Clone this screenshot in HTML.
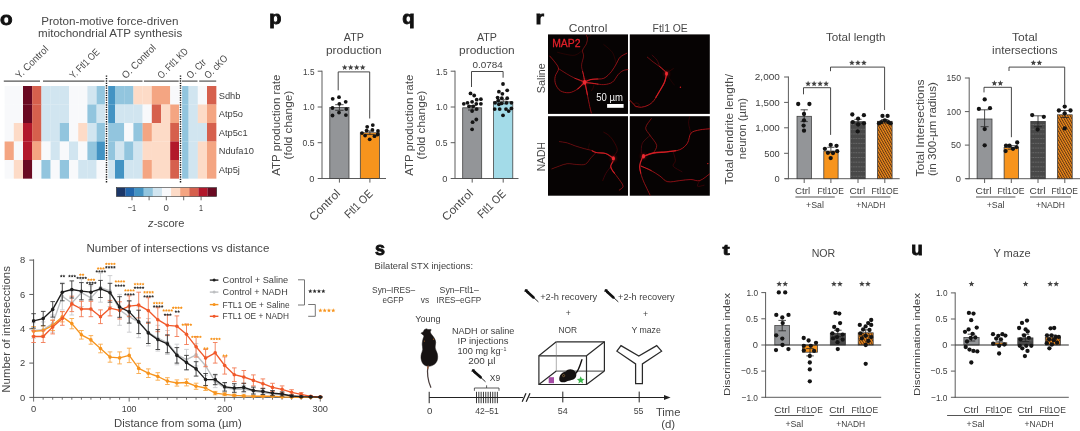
<!DOCTYPE html>
<html><head><meta charset="utf-8"><title>figure</title>
<style>
html,body{margin:0;padding:0;background:#fff;}
svg{display:block;font-family:'Liberation Sans', sans-serif;}
text{fill:#474747;}
</style></head><body>
<svg width="1080" height="431" viewBox="0 0 1080 431">
<defs>
<pattern id="hatch" width="2.25" height="2.25" patternUnits="userSpaceOnUse" patternTransform="rotate(-30)">
<rect width="2.25" height="2.25" fill="#f28c1c"/><rect width="1.0" height="2.25" fill="#5e3512"/></pattern>
<pattern id="dash" width="2.6" height="4.7" patternUnits="userSpaceOnUse">
<rect width="2.6" height="4.7" fill="#484848"/><rect x="0.3" y="2.0" width="1.6" height="0.7" fill="#777"/></pattern>
<filter id="blur" x="-5%" y="-5%" width="110%" height="110%"><feGaussianBlur stdDeviation="0.45"/></filter>
<filter id="glow" x="-50%" y="-50%" width="200%" height="200%"><feGaussianBlur stdDeviation="1.4"/></filter>
</defs>
<rect width="1080" height="431" fill="#fff"/>
<g opacity="0.999">
<text x="-0.1" y="24.5" font-size="18.8" textLength="12.6" lengthAdjust="spacingAndGlyphs" font-weight="bold" style="fill:#111" stroke="#111" stroke-width="0.85">o</text>
<text x="269.2" y="24.1" font-size="18.8" textLength="12.2" lengthAdjust="spacingAndGlyphs" font-weight="bold" style="fill:#111" stroke="#111" stroke-width="0.85">p</text>
<text x="402.2" y="24.1" font-size="18.8" textLength="12.4" lengthAdjust="spacingAndGlyphs" font-weight="bold" style="fill:#111" stroke="#111" stroke-width="0.85">q</text>
<text x="535.5" y="24.3" font-size="18.8" textLength="8.5" lengthAdjust="spacingAndGlyphs" font-weight="bold" style="fill:#111" stroke="#111" stroke-width="0.85">r</text>
<text x="375" y="254.8" font-size="18.8" textLength="10" lengthAdjust="spacingAndGlyphs" font-weight="bold" style="fill:#111" stroke="#111" stroke-width="0.85">s</text>
<text transform="translate(722.4,255) scale(1,0.79)" font-size="18.8" font-weight="bold" textLength="7.2" lengthAdjust="spacingAndGlyphs" style="fill:#111" stroke="#111" stroke-width="0.85">t</text>
<text x="911.3" y="255" font-size="18.8" textLength="11.5" lengthAdjust="spacingAndGlyphs" font-weight="bold" style="fill:#111" stroke="#111" stroke-width="0.85">u</text>
<text x="41.2" y="25" font-size="11.4" textLength="137.3" lengthAdjust="spacingAndGlyphs" >Proton-motive force-driven</text>
<text x="38" y="37.4" font-size="11.4" textLength="144.2" lengthAdjust="spacingAndGlyphs" >mitochondrial ATP synthesis</text>
<rect x="4.60" y="86.00" width="9.35" height="18.65" fill="#f8f9fb" />
<rect x="13.80" y="86.00" width="9.35" height="18.65" fill="#f8f9fb" />
<rect x="23.00" y="86.00" width="9.35" height="18.65" fill="#6a0a22" />
<rect x="32.20" y="86.00" width="9.35" height="18.65" fill="#d6604d" />
<rect x="41.40" y="86.00" width="9.35" height="18.65" fill="#d1e5f0" />
<rect x="50.60" y="86.00" width="9.35" height="18.65" fill="#d1e5f0" />
<rect x="59.80" y="86.00" width="9.35" height="18.65" fill="#d1e5f0" />
<rect x="69.00" y="86.00" width="9.35" height="18.65" fill="#f8f9fb" />
<rect x="78.20" y="86.00" width="9.35" height="18.65" fill="#f8f9fb" />
<rect x="87.40" y="86.00" width="9.35" height="18.65" fill="#d1e5f0" />
<rect x="96.60" y="86.00" width="9.35" height="18.65" fill="#92c5de" />
<rect x="105.80" y="86.00" width="9.35" height="18.65" fill="#4393c3" />
<rect x="115.00" y="86.00" width="9.35" height="18.65" fill="#92c5de" />
<rect x="124.20" y="86.00" width="9.35" height="18.65" fill="#92c5de" />
<rect x="133.40" y="86.00" width="9.35" height="18.65" fill="#fddbc7" />
<rect x="142.60" y="86.00" width="9.35" height="18.65" fill="#fddbc7" />
<rect x="151.80" y="86.00" width="9.35" height="18.65" fill="#f4a582" />
<rect x="161.00" y="86.00" width="9.35" height="18.65" fill="#f4a582" />
<rect x="170.20" y="86.00" width="9.35" height="18.65" fill="#f8f9fb" />
<rect x="179.40" y="86.00" width="9.35" height="18.65" fill="#92c5de" />
<rect x="188.60" y="86.00" width="9.35" height="18.65" fill="#d1e5f0" />
<rect x="197.80" y="86.00" width="9.35" height="18.65" fill="#f8f9fb" />
<rect x="207.00" y="86.00" width="9.35" height="18.65" fill="#d6604d" />
<rect x="4.60" y="104.50" width="9.35" height="18.65" fill="#f8f9fb" />
<rect x="13.80" y="104.50" width="9.35" height="18.65" fill="#f8f9fb" />
<rect x="23.00" y="104.50" width="9.35" height="18.65" fill="#6a0a22" />
<rect x="32.20" y="104.50" width="9.35" height="18.65" fill="#d6604d" />
<rect x="41.40" y="104.50" width="9.35" height="18.65" fill="#d1e5f0" />
<rect x="50.60" y="104.50" width="9.35" height="18.65" fill="#d1e5f0" />
<rect x="59.80" y="104.50" width="9.35" height="18.65" fill="#d1e5f0" />
<rect x="69.00" y="104.50" width="9.35" height="18.65" fill="#f8f9fb" />
<rect x="78.20" y="104.50" width="9.35" height="18.65" fill="#f8f9fb" />
<rect x="87.40" y="104.50" width="9.35" height="18.65" fill="#92c5de" />
<rect x="96.60" y="104.50" width="9.35" height="18.65" fill="#d1e5f0" />
<rect x="105.80" y="104.50" width="9.35" height="18.65" fill="#4393c3" />
<rect x="115.00" y="104.50" width="9.35" height="18.65" fill="#d1e5f0" />
<rect x="124.20" y="104.50" width="9.35" height="18.65" fill="#d1e5f0" />
<rect x="133.40" y="104.50" width="9.35" height="18.65" fill="#d1e5f0" />
<rect x="142.60" y="104.50" width="9.35" height="18.65" fill="#f8f9fb" />
<rect x="151.80" y="104.50" width="9.35" height="18.65" fill="#d6604d" />
<rect x="161.00" y="104.50" width="9.35" height="18.65" fill="#fddbc7" />
<rect x="170.20" y="104.50" width="9.35" height="18.65" fill="#f4a582" />
<rect x="179.40" y="104.50" width="9.35" height="18.65" fill="#92c5de" />
<rect x="188.60" y="104.50" width="9.35" height="18.65" fill="#d1e5f0" />
<rect x="197.80" y="104.50" width="9.35" height="18.65" fill="#fddbc7" />
<rect x="207.00" y="104.50" width="9.35" height="18.65" fill="#f4a582" />
<rect x="4.60" y="123.00" width="9.35" height="18.65" fill="#f8f9fb" />
<rect x="13.80" y="123.00" width="9.35" height="18.65" fill="#fddbc7" />
<rect x="23.00" y="123.00" width="9.35" height="18.65" fill="#b2182b" />
<rect x="32.20" y="123.00" width="9.35" height="18.65" fill="#d6604d" />
<rect x="41.40" y="123.00" width="9.35" height="18.65" fill="#d1e5f0" />
<rect x="50.60" y="123.00" width="9.35" height="18.65" fill="#d1e5f0" />
<rect x="59.80" y="123.00" width="9.35" height="18.65" fill="#92c5de" />
<rect x="69.00" y="123.00" width="9.35" height="18.65" fill="#f8f9fb" />
<rect x="78.20" y="123.00" width="9.35" height="18.65" fill="#fddbc7" />
<rect x="87.40" y="123.00" width="9.35" height="18.65" fill="#d1e5f0" />
<rect x="96.60" y="123.00" width="9.35" height="18.65" fill="#92c5de" />
<rect x="105.80" y="123.00" width="9.35" height="18.65" fill="#92c5de" />
<rect x="115.00" y="123.00" width="9.35" height="18.65" fill="#92c5de" />
<rect x="124.20" y="123.00" width="9.35" height="18.65" fill="#f8f9fb" />
<rect x="133.40" y="123.00" width="9.35" height="18.65" fill="#92c5de" />
<rect x="142.60" y="123.00" width="9.35" height="18.65" fill="#f4a582" />
<rect x="151.80" y="123.00" width="9.35" height="18.65" fill="#fddbc7" />
<rect x="161.00" y="123.00" width="9.35" height="18.65" fill="#fddbc7" />
<rect x="170.20" y="123.00" width="9.35" height="18.65" fill="#d6604d" />
<rect x="179.40" y="123.00" width="9.35" height="18.65" fill="#92c5de" />
<rect x="188.60" y="123.00" width="9.35" height="18.65" fill="#d1e5f0" />
<rect x="197.80" y="123.00" width="9.35" height="18.65" fill="#d1e5f0" />
<rect x="207.00" y="123.00" width="9.35" height="18.65" fill="#d6604d" />
<rect x="4.60" y="141.50" width="9.35" height="18.65" fill="#f4a582" />
<rect x="13.80" y="141.50" width="9.35" height="18.65" fill="#f8f9fb" />
<rect x="23.00" y="141.50" width="9.35" height="18.65" fill="#b2182b" />
<rect x="32.20" y="141.50" width="9.35" height="18.65" fill="#f4a582" />
<rect x="41.40" y="141.50" width="9.35" height="18.65" fill="#f8f9fb" />
<rect x="50.60" y="141.50" width="9.35" height="18.65" fill="#d1e5f0" />
<rect x="59.80" y="141.50" width="9.35" height="18.65" fill="#f8f9fb" />
<rect x="69.00" y="141.50" width="9.35" height="18.65" fill="#d1e5f0" />
<rect x="78.20" y="141.50" width="9.35" height="18.65" fill="#f8f9fb" />
<rect x="87.40" y="141.50" width="9.35" height="18.65" fill="#92c5de" />
<rect x="96.60" y="141.50" width="9.35" height="18.65" fill="#4393c3" />
<rect x="105.80" y="141.50" width="9.35" height="18.65" fill="#92c5de" />
<rect x="115.00" y="141.50" width="9.35" height="18.65" fill="#d1e5f0" />
<rect x="124.20" y="141.50" width="9.35" height="18.65" fill="#92c5de" />
<rect x="133.40" y="141.50" width="9.35" height="18.65" fill="#d1e5f0" />
<rect x="142.60" y="141.50" width="9.35" height="18.65" fill="#fddbc7" />
<rect x="151.80" y="141.50" width="9.35" height="18.65" fill="#fddbc7" />
<rect x="161.00" y="141.50" width="9.35" height="18.65" fill="#fddbc7" />
<rect x="170.20" y="141.50" width="9.35" height="18.65" fill="#b2182b" />
<rect x="179.40" y="141.50" width="9.35" height="18.65" fill="#92c5de" />
<rect x="188.60" y="141.50" width="9.35" height="18.65" fill="#d1e5f0" />
<rect x="197.80" y="141.50" width="9.35" height="18.65" fill="#fddbc7" />
<rect x="207.00" y="141.50" width="9.35" height="18.65" fill="#f4a582" />
<rect x="4.60" y="160.00" width="9.35" height="18.65" fill="#f8f9fb" />
<rect x="13.80" y="160.00" width="9.35" height="18.65" fill="#fddbc7" />
<rect x="23.00" y="160.00" width="9.35" height="18.65" fill="#6a0a22" />
<rect x="32.20" y="160.00" width="9.35" height="18.65" fill="#f8f9fb" />
<rect x="41.40" y="160.00" width="9.35" height="18.65" fill="#92c5de" />
<rect x="50.60" y="160.00" width="9.35" height="18.65" fill="#f8f9fb" />
<rect x="59.80" y="160.00" width="9.35" height="18.65" fill="#92c5de" />
<rect x="69.00" y="160.00" width="9.35" height="18.65" fill="#f8f9fb" />
<rect x="78.20" y="160.00" width="9.35" height="18.65" fill="#d1e5f0" />
<rect x="87.40" y="160.00" width="9.35" height="18.65" fill="#d1e5f0" />
<rect x="96.60" y="160.00" width="9.35" height="18.65" fill="#f8f9fb" />
<rect x="105.80" y="160.00" width="9.35" height="18.65" fill="#d1e5f0" />
<rect x="115.00" y="160.00" width="9.35" height="18.65" fill="#4393c3" />
<rect x="124.20" y="160.00" width="9.35" height="18.65" fill="#d1e5f0" />
<rect x="133.40" y="160.00" width="9.35" height="18.65" fill="#d1e5f0" />
<rect x="142.60" y="160.00" width="9.35" height="18.65" fill="#f4a582" />
<rect x="151.80" y="160.00" width="9.35" height="18.65" fill="#fddbc7" />
<rect x="161.00" y="160.00" width="9.35" height="18.65" fill="#fddbc7" />
<rect x="170.20" y="160.00" width="9.35" height="18.65" fill="#d6604d" />
<rect x="179.40" y="160.00" width="9.35" height="18.65" fill="#92c5de" />
<rect x="188.60" y="160.00" width="9.35" height="18.65" fill="#d1e5f0" />
<rect x="197.80" y="160.00" width="9.35" height="18.65" fill="#fddbc7" />
<rect x="207.00" y="160.00" width="9.35" height="18.65" fill="#f4a582" />
<rect x="104.90" y="84.00" width="3.30" height="96.00" fill="#fff" />
<rect x="179.00" y="84.00" width="3.10" height="96.00" fill="#fff" />
<line x1="106.5" y1="75.5" x2="106.5" y2="182.5" stroke="#1c1c1c" stroke-width="1.45" stroke-dasharray="1.35 1.05"/>
<line x1="180.5" y1="75.5" x2="180.5" y2="182.5" stroke="#1c1c1c" stroke-width="1.45" stroke-dasharray="1.35 1.05"/>
<line x1="3.8" y1="81.1" x2="40" y2="81.1" stroke="#555" stroke-width="1.2" />
<line x1="43" y1="81.1" x2="104.5" y2="81.1" stroke="#555" stroke-width="1.2" />
<line x1="108.7" y1="81.1" x2="142.5" y2="81.1" stroke="#555" stroke-width="1.2" />
<line x1="143.9" y1="81.1" x2="178.7" y2="81.1" stroke="#555" stroke-width="1.2" />
<line x1="182" y1="81.1" x2="197.5" y2="81.1" stroke="#555" stroke-width="1.2" />
<line x1="199.2" y1="81.1" x2="216.2" y2="81.1" stroke="#555" stroke-width="1.2" />
<text transform="translate(19.6,79.2) rotate(-45)" font-size="10" textLength="41.5" lengthAdjust="spacingAndGlyphs" >Y. Control</text>
<text transform="translate(73.6,79.2) rotate(-45)" font-size="10" textLength="37.5" lengthAdjust="spacingAndGlyphs" >Y. Ftl1 OE</text>
<text transform="translate(125.8,79.2) rotate(-45)" font-size="10" textLength="43.5" lengthAdjust="spacingAndGlyphs" >O. Control</text>
<text transform="translate(161.5,79.2) rotate(-45)" font-size="10" textLength="38.5" lengthAdjust="spacingAndGlyphs" >O. Ftl1 KD</text>
<text transform="translate(190.5,79.2) rotate(-45)" font-size="10" textLength="23" lengthAdjust="spacingAndGlyphs" >O. Ctr</text>
<text transform="translate(208.2,79.2) rotate(-45)" font-size="10" textLength="28.5" lengthAdjust="spacingAndGlyphs" >O. cKO</text>
<text x="218.7" y="98.6" font-size="9.3" style="fill:#3e3e3e" >Sdhb</text>
<text x="218.7" y="117.1" font-size="9.3" style="fill:#3e3e3e" >Atp5o</text>
<text x="218.7" y="135.6" font-size="9.3" style="fill:#3e3e3e" >Atp5c1</text>
<text x="218.7" y="154.1" font-size="9.3" style="fill:#3e3e3e" >Ndufa10</text>
<text x="218.7" y="172.6" font-size="9.3" style="fill:#3e3e3e" >Atp5j</text>
<rect x="116.40" y="187.60" width="9.21" height="8.90" fill="#1b3768" />
<rect x="125.51" y="187.60" width="9.21" height="8.90" fill="#2166ac" />
<rect x="134.62" y="187.60" width="9.21" height="8.90" fill="#4393c3" />
<rect x="143.73" y="187.60" width="9.21" height="8.90" fill="#92c5de" />
<rect x="152.84" y="187.60" width="9.21" height="8.90" fill="#d1e5f0" />
<rect x="161.95" y="187.60" width="9.21" height="8.90" fill="#f8f9fb" />
<rect x="171.06" y="187.60" width="9.21" height="8.90" fill="#fddbc7" />
<rect x="180.17" y="187.60" width="9.21" height="8.90" fill="#f4a582" />
<rect x="189.28" y="187.60" width="9.21" height="8.90" fill="#d6604d" />
<rect x="198.39" y="187.60" width="9.21" height="8.90" fill="#b2182b" />
<rect x="207.50" y="187.60" width="9.21" height="8.90" fill="#6a0a22" />
<rect x="116.40" y="187.60" width="100.20" height="8.90" fill="none" stroke="#333" stroke-width="0.6" />
<line x1="132" y1="196.5" x2="132" y2="200.3" stroke="#444" stroke-width="0.8" />
<line x1="149.1" y1="196.5" x2="149.1" y2="200.3" stroke="#444" stroke-width="0.8" />
<line x1="166.3" y1="196.5" x2="166.3" y2="200.3" stroke="#444" stroke-width="0.8" />
<line x1="183.7" y1="196.5" x2="183.7" y2="200.3" stroke="#444" stroke-width="0.8" />
<line x1="201.1" y1="196.5" x2="201.1" y2="200.3" stroke="#444" stroke-width="0.8" />
<text x="132" y="210.5" font-size="9.2" text-anchor="middle" textLength="8.5" lengthAdjust="spacingAndGlyphs" style="fill:#3e3e3e" >−1</text>
<text x="166.3" y="210.5" font-size="9.2" text-anchor="middle" textLength="5.4" lengthAdjust="spacingAndGlyphs" style="fill:#3e3e3e" >0</text>
<text x="201.1" y="210.5" font-size="9.2" text-anchor="middle" textLength="4" lengthAdjust="spacingAndGlyphs" style="fill:#3e3e3e" >1</text>
<text x="166.3" y="226.8" font-size="11" text-anchor="middle" textLength="36.4" lengthAdjust="spacingAndGlyphs"><tspan font-style="italic">z</tspan>-score</text>
<text x="353.8" y="40.5" font-size="11.4" text-anchor="middle" textLength="20" lengthAdjust="spacingAndGlyphs" >ATP</text>
<text x="353.8" y="53.7" font-size="11.4" text-anchor="middle" textLength="55.6" lengthAdjust="spacingAndGlyphs" >production</text>
<text transform="translate(280.3,125.2) rotate(-90)" font-size="10.8" text-anchor="middle" textLength="101" lengthAdjust="spacingAndGlyphs" >ATP production rate</text>
<text transform="translate(292.1,125.2) rotate(-90)" font-size="10.8" text-anchor="middle" textLength="68.7" lengthAdjust="spacingAndGlyphs" >(fold change)</text>
<line x1="322" y1="70.7" x2="322" y2="179.0" stroke="#5c5c5c" stroke-width="1" />
<line x1="317.7" y1="71.2" x2="322" y2="71.2" stroke="#5c5c5c" stroke-width="1" />
<text x="314.5" y="74.5" font-size="9.5" text-anchor="end" textLength="11.5" lengthAdjust="spacingAndGlyphs" style="fill:#3e3e3e" >1.5</text>
<line x1="317.7" y1="107" x2="322" y2="107" stroke="#5c5c5c" stroke-width="1" />
<text x="314.5" y="110.3" font-size="9.5" text-anchor="end" textLength="11.5" lengthAdjust="spacingAndGlyphs" style="fill:#3e3e3e" >1.0</text>
<line x1="317.7" y1="142.7" x2="322" y2="142.7" stroke="#5c5c5c" stroke-width="1" />
<text x="314.5" y="146.0" font-size="9.5" text-anchor="end" textLength="12" lengthAdjust="spacingAndGlyphs" style="fill:#3e3e3e" >0.5</text>
<line x1="317.7" y1="178.5" x2="322" y2="178.5" stroke="#5c5c5c" stroke-width="1" />
<text x="314.5" y="181.8" font-size="9.5" text-anchor="end" textLength="5.2" lengthAdjust="spacingAndGlyphs" style="fill:#3e3e3e" >0</text>
<line x1="321.5" y1="178.5" x2="386" y2="178.5" stroke="#5c5c5c" stroke-width="1" />
<rect x="329.80" y="107.50" width="19.20" height="71.00" fill="#939598" stroke="#3a3a3a" stroke-width="0.75" />
<rect x="360.30" y="132.80" width="19.20" height="45.70" fill="#f7941d" stroke="#3a3a3a" stroke-width="0.75" />
<line x1="339.4" y1="178.5" x2="339.4" y2="182.6" stroke="#5c5c5c" stroke-width="1" />
<line x1="369.9" y1="178.5" x2="369.9" y2="182.6" stroke="#5c5c5c" stroke-width="1" />
<path d="M339.4,104.7V110.3M335.2,104.7H343.59999999999997M335.2,110.3H343.59999999999997" fill="none" stroke="#222" stroke-width="0.8" />
<path d="M369.9,131V134.6M365.7,131H374.09999999999997M365.7,134.6H374.09999999999997" fill="none" stroke="#222" stroke-width="0.8" />
<g fill="#141414"><circle cx="332.7" cy="98.8" r="1.9"/><circle cx="339.0" cy="97.2" r="1.9"/><circle cx="345.7" cy="101.8" r="1.9"/><circle cx="339.4" cy="103.8" r="1.9"/><circle cx="332.5" cy="108.0" r="1.9"/><circle cx="346.3" cy="109.1" r="1.9"/><circle cx="339.0" cy="112.6" r="1.9"/><circle cx="332.5" cy="115.5" r="1.9"/><circle cx="345.9" cy="115.1" r="1.9"/></g>
<g fill="#141414"><circle cx="367.2" cy="126.8" r="1.9"/><circle cx="372.8" cy="125.1" r="1.9"/><circle cx="366.6" cy="130.6" r="1.9"/><circle cx="372.4" cy="129.9" r="1.9"/><circle cx="362.0" cy="133.1" r="1.9"/><circle cx="378.0" cy="131.0" r="1.9"/><circle cx="365.1" cy="135.6" r="1.9"/><circle cx="369.7" cy="139.3" r="1.9"/><circle cx="374.5" cy="136.2" r="1.9"/><circle cx="377.6" cy="134.5" r="1.9"/></g>
<path d="M338.2,90.3V71.9H369.7V118.5" fill="none" stroke="#333" stroke-width="0.9" />
<path d="M344.70,64.50 L345.49,66.41 L347.55,66.57 L345.98,67.92 L346.46,69.93 L344.70,68.85 L342.94,69.93 L343.42,67.92 L341.85,66.57 L343.91,66.41ZM350.70,64.50 L351.49,66.41 L353.55,66.57 L351.98,67.92 L352.46,69.93 L350.70,68.85 L348.94,69.93 L349.42,67.92 L347.85,66.57 L349.91,66.41ZM356.70,64.50 L357.49,66.41 L359.55,66.57 L357.98,67.92 L358.46,69.93 L356.70,68.85 L354.94,69.93 L355.42,67.92 L353.85,66.57 L355.91,66.41ZM362.70,64.50 L363.49,66.41 L365.55,66.57 L363.98,67.92 L364.46,69.93 L362.70,68.85 L360.94,69.93 L361.42,67.92 L359.85,66.57 L361.91,66.41Z" fill="#424242"/>
<text transform="translate(341,194.2) rotate(-45)" font-size="11.4" text-anchor="end" textLength="38.5" lengthAdjust="spacingAndGlyphs" >Control</text>
<text transform="translate(373.5,194.5) rotate(-45)" font-size="11.4" text-anchor="end" textLength="34.5" lengthAdjust="spacingAndGlyphs" >Ftl1 OE</text>
<text x="486.9" y="40.5" font-size="11.4" text-anchor="middle" textLength="20" lengthAdjust="spacingAndGlyphs" >ATP</text>
<text x="486.9" y="53.7" font-size="11.4" text-anchor="middle" textLength="55.6" lengthAdjust="spacingAndGlyphs" >production</text>
<text transform="translate(413.3,125.2) rotate(-90)" font-size="10.8" text-anchor="middle" textLength="101" lengthAdjust="spacingAndGlyphs" >ATP production rate</text>
<text transform="translate(425.1,125.2) rotate(-90)" font-size="10.8" text-anchor="middle" textLength="68.7" lengthAdjust="spacingAndGlyphs" >(fold change)</text>
<line x1="455" y1="70.7" x2="455" y2="179.0" stroke="#5c5c5c" stroke-width="1" />
<line x1="450.7" y1="71.2" x2="455" y2="71.2" stroke="#5c5c5c" stroke-width="1" />
<text x="447.5" y="74.5" font-size="9.5" text-anchor="end" textLength="11.5" lengthAdjust="spacingAndGlyphs" style="fill:#3e3e3e" >1.5</text>
<line x1="450.7" y1="107" x2="455" y2="107" stroke="#5c5c5c" stroke-width="1" />
<text x="447.5" y="110.3" font-size="9.5" text-anchor="end" textLength="11.5" lengthAdjust="spacingAndGlyphs" style="fill:#3e3e3e" >1.0</text>
<line x1="450.7" y1="142.7" x2="455" y2="142.7" stroke="#5c5c5c" stroke-width="1" />
<text x="447.5" y="146.0" font-size="9.5" text-anchor="end" textLength="12" lengthAdjust="spacingAndGlyphs" style="fill:#3e3e3e" >0.5</text>
<line x1="450.7" y1="178.5" x2="455" y2="178.5" stroke="#5c5c5c" stroke-width="1" />
<text x="447.5" y="181.8" font-size="9.5" text-anchor="end" textLength="5.2" lengthAdjust="spacingAndGlyphs" style="fill:#3e3e3e" >0</text>
<line x1="454.5" y1="178.5" x2="518.5" y2="178.5" stroke="#5c5c5c" stroke-width="1" />
<rect x="462.70" y="107.80" width="19.00" height="70.70" fill="#939598" stroke="#3a3a3a" stroke-width="0.75" />
<rect x="493.60" y="101.80" width="19.20" height="76.70" fill="#a3dbe8" stroke="#3a3a3a" stroke-width="0.75" />
<line x1="472.2" y1="178.5" x2="472.2" y2="182.6" stroke="#5c5c5c" stroke-width="1" />
<line x1="503.2" y1="178.5" x2="503.2" y2="182.6" stroke="#5c5c5c" stroke-width="1" />
<path d="M472.2,105.5V110M468.0,105.5H476.4M468.0,110H476.4" fill="none" stroke="#222" stroke-width="0.8" />
<path d="M503.2,99.8V103.8M499.0,99.8H507.4M499.0,103.8H507.4" fill="none" stroke="#222" stroke-width="0.8" />
<g fill="#141414"><circle cx="470.5" cy="93.4" r="1.9"/><circle cx="474.2" cy="95.5" r="1.9"/><circle cx="476.7" cy="99.7" r="1.9"/><circle cx="480.9" cy="99.2" r="1.9"/><circle cx="467.5" cy="102.8" r="1.9"/><circle cx="472.1" cy="101.8" r="1.9"/><circle cx="463.8" cy="103.8" r="1.9"/><circle cx="476.3" cy="103.8" r="1.9"/><circle cx="480.9" cy="103.8" r="1.9"/><circle cx="469.0" cy="106.3" r="1.9"/><circle cx="473.2" cy="106.3" r="1.9"/><circle cx="476.7" cy="109.1" r="1.9"/><circle cx="472.1" cy="111.1" r="1.9"/><circle cx="476.3" cy="119.5" r="1.9"/><circle cx="472.6" cy="122.2" r="1.9"/><circle cx="472.1" cy="129.3" r="1.9"/></g>
<g fill="#141414"><circle cx="503.0" cy="84.0" r="1.9"/><circle cx="507.2" cy="90.3" r="1.9"/><circle cx="498.9" cy="91.7" r="1.9"/><circle cx="502.4" cy="93.8" r="1.9"/><circle cx="497.6" cy="97.6" r="1.9"/><circle cx="501.8" cy="98.2" r="1.9"/><circle cx="507.2" cy="98.2" r="1.9"/><circle cx="498.2" cy="100.7" r="1.9"/><circle cx="495.1" cy="102.8" r="1.9"/><circle cx="501.4" cy="103.4" r="1.9"/><circle cx="506.6" cy="102.8" r="1.9"/><circle cx="511.4" cy="102.8" r="1.9"/><circle cx="498.9" cy="104.3" r="1.9"/><circle cx="494.7" cy="109.1" r="1.9"/><circle cx="499.7" cy="109.1" r="1.9"/><circle cx="506.0" cy="109.1" r="1.9"/><circle cx="511.4" cy="108.4" r="1.9"/><circle cx="508.7" cy="111.1" r="1.9"/><circle cx="503.0" cy="115.3" r="1.9"/></g>
<path d="M471.5,87V71.5H503.1V77.7" fill="none" stroke="#333" stroke-width="0.9" />
<text x="487.6" y="67.7" font-size="9.2" text-anchor="middle" textLength="30.3" lengthAdjust="spacingAndGlyphs" style="fill:#3e3e3e" >0.0784</text>
<text transform="translate(473.8,194.2) rotate(-45)" font-size="11.4" text-anchor="end" textLength="38.5" lengthAdjust="spacingAndGlyphs" >Control</text>
<text transform="translate(506.5,194.5) rotate(-45)" font-size="11.4" text-anchor="end" textLength="34.5" lengthAdjust="spacingAndGlyphs" >Ftl1 OE</text>
<text x="568.8" y="31.8" font-size="11.4" textLength="38.6" lengthAdjust="spacingAndGlyphs" >Control</text>
<text x="652.6" y="31.8" font-size="11.4" textLength="35.2" lengthAdjust="spacingAndGlyphs" >Ftl1 OE</text>
<text transform="translate(545,78.2) rotate(-90)" font-size="11.4" text-anchor="middle" textLength="29.9" lengthAdjust="spacingAndGlyphs" >Saline</text>
<text transform="translate(545,156.7) rotate(-90)" font-size="11.4" text-anchor="middle" textLength="29.3" lengthAdjust="spacingAndGlyphs" >NADH</text>
<rect x="548.00" y="34.40" width="80.00" height="79.50" fill="#060303" />
<g transform="translate(548,34.4)" fill="none" stroke-linecap="round" stroke-linejoin="round">
<circle cx="36.6" cy="47.9" r="3.0" fill="#d8161a" opacity="0.4" filter="url(#glow)" stroke="none"/>
<g filter="url(#blur)">
<path d="M36.5,44.8 C36.2,43.5 35.1,39.5 34.6,37.1 C34.1,34.7 33.4,33.0 33.6,30.4 C33.8,27.8 35.4,24.1 35.6,21.7 C35.8,19.3 34.1,18.0 34.6,15.9 C35.1,13.8 37.7,11.3 38.5,9.2 C39.3,7.1 39.5,4.9 39.4,3.4 C39.3,1.9 38.2,0.9 38.0,0.4" stroke="#c0171c" stroke-width="0.8" opacity="0.66"/>
<path d="M34.6,15.9 C33.3,16.7 29.8,20.2 26.9,20.8 C24.0,21.4 20.2,20.3 17.3,19.8 C14.4,19.3 10.9,18.2 9.6,17.9" stroke="#c0171c" stroke-width="0.5" opacity="0.35"/>
<path d="M36.5,47.7 C35.4,48.8 32.4,52.7 29.8,54.5 C27.2,56.3 24.0,58.0 21.1,58.3 C18.2,58.6 14.7,57.8 12.4,56.4 C10.2,55.0 8.5,52.1 7.6,49.7 C6.7,47.3 6.7,44.6 7.2,42.0 C7.7,39.4 10.6,36.6 10.5,34.2 C10.4,31.8 8.2,29.6 6.7,27.5 C5.2,25.4 2.6,22.7 1.8,21.7" stroke="#c0171c" stroke-width="0.9" opacity="0.79"/>
<path d="M36.5,47.7 C34.9,47.1 29.9,45.3 26.9,43.9 C23.8,42.5 20.9,40.7 18.2,39.1 C15.5,37.5 11.8,35.0 10.5,34.2" stroke="#c0171c" stroke-width="0.8" opacity="0.75"/>
<path d="M36.5,47.7 C38.0,47.2 42.0,45.4 45.2,44.8 C48.4,44.2 52.8,45.2 55.8,43.9 C58.8,42.6 61.4,39.5 63.5,37.1 C65.6,34.7 66.8,31.8 68.3,29.4 C69.8,27.0 70.4,24.5 72.2,22.7 C74.0,20.9 77.8,19.4 78.9,18.8" stroke="#c0171c" stroke-width="0.9" opacity="0.79"/>
<path d="M36.5,47.7 C38.1,47.9 43.0,48.7 46.2,49.1 C49.4,49.5 52.8,50.4 55.8,50.2 C58.8,50.0 62.1,49.4 64.5,47.7 C66.9,46.0 68.5,41.9 70.3,40.0 C72.1,38.1 73.5,37.0 75.1,36.2 C76.7,35.4 79.1,35.4 79.9,35.2" stroke="#c0171c" stroke-width="0.9" opacity="0.75"/>
<path d="M37.5,51.6 C37.8,53.0 38.8,57.2 39.4,60.3 C40.0,63.3 40.6,66.9 41.3,69.9 C41.9,73.0 43.0,77.1 43.3,78.6" stroke="#c0171c" stroke-width="0.9" opacity="0.79"/>
<path d="M55.8,10.2 C56.8,11.0 60.0,13.4 61.6,15.0 C63.2,16.6 64.3,17.4 65.4,19.8 C66.5,22.2 67.8,27.8 68.3,29.4" stroke="#c0171c" stroke-width="0.5" opacity="0.35"/>
<path d="M46.2,49.1 C46.0,49.8 45.7,52.3 45.2,53.5 C44.7,54.7 43.6,55.9 43.3,56.4" stroke="#c0171c" stroke-width="0.5" opacity="0.44"/>
<path d="M39.4,3.4 L42.5,1.0" stroke="#c0171c" stroke-width="0.5" opacity="0.35"/>
<path d="M36.5,46.0 C36.3,45.0 35.7,41.5 35.4,40.0 C35.1,38.5 34.7,37.6 34.6,37.1" stroke="#d81f26" stroke-width="0.96" opacity="0.9"/>
<path d="M36.5,48.0 C35.8,48.8 33.1,51.4 32.0,52.5 C30.9,53.6 30.2,54.2 29.8,54.5" stroke="#d81f26" stroke-width="1.04" opacity="0.9"/>
<path d="M36.9,47.5 C37.6,47.2 39.6,46.1 41.0,45.6 C42.4,45.1 43.7,45.0 45.2,44.8 C46.7,44.6 49.2,44.6 50.0,44.6" stroke="#d81f26" stroke-width="1.04" opacity="0.9"/>
<path d="M37.3,49.5 C37.5,50.4 38.0,53.2 38.4,55.0 C38.8,56.8 39.2,59.4 39.4,60.3" stroke="#d81f26" stroke-width="1.12" opacity="0.9"/>
<path d="M36.9,48.2 C37.8,48.3 40.5,48.5 42.0,48.6 C43.5,48.8 44.9,48.9 46.2,49.1 C47.5,49.3 49.4,49.7 50.0,49.8" stroke="#d81f26" stroke-width="0.96" opacity="0.9"/>
<path d="M36.5,47.5 C35.6,47.1 32.6,46.0 31.0,45.4 C29.4,44.8 27.6,44.1 26.9,43.9" stroke="#d81f26" stroke-width="0.88" opacity="0.9"/>
<ellipse cx="36.6" cy="47.9" rx="1.80" ry="2.52" fill="#ee2a30" stroke="none"/>
</g></g>
<rect x="629.80" y="34.40" width="80.00" height="79.50" fill="#060303" />
<g transform="translate(629.8,34.4)" fill="none" stroke-linecap="round" stroke-linejoin="round">
<circle cx="36.7" cy="39.3" r="2.6" fill="#d8161a" opacity="0.4" filter="url(#glow)" stroke="none"/>
<g filter="url(#blur)">
<path d="M36.7,40.0 C36.4,41.3 35.9,45.0 34.8,47.7 C33.7,50.4 31.8,53.4 30.0,56.4 C28.2,59.4 26.1,63.6 24.2,66.0 C22.3,68.4 20.5,69.7 18.4,70.8 C16.3,71.9 13.8,72.6 11.7,72.8 C9.6,73.0 7.2,72.3 5.9,71.8 C4.6,71.3 5.0,70.9 4.0,69.9 C3.0,68.9 0.8,66.7 0.2,66.0" stroke="#c0171c" stroke-width="1.0" opacity="0.84"/>
<path d="M35.8,37.1 C34.8,36.3 32.1,33.9 30.0,32.3 C27.9,30.7 25.4,29.1 23.3,27.5 C21.2,25.9 18.5,23.5 17.5,22.7" stroke="#c0171c" stroke-width="0.8" opacity="0.70"/>
<path d="M30.0,32.3 C29.5,31.2 28.4,27.5 27.1,25.6 C25.8,23.7 23.1,21.6 22.3,20.8" stroke="#c0171c" stroke-width="0.6" opacity="0.53"/>
<path d="M37.7,38.1 L43.5,34.2" stroke="#c0171c" stroke-width="0.5" opacity="0.44"/>
<path d="M37.7,41.0 C38.4,42.0 40.5,45.2 41.6,46.8 C42.7,48.4 44.0,50.0 44.5,50.6" stroke="#c0171c" stroke-width="0.4" opacity="0.35"/>
<path d="M4.0,69.9 C4.4,69.7 5.6,68.5 6.5,68.6 C7.4,68.6 9.4,69.5 9.5,70.2 C9.6,70.9 7.8,72.4 7.0,72.6 C6.2,72.8 5.0,71.6 4.6,71.4" stroke="#c0171c" stroke-width="0.5" opacity="0.53"/>
<path d="M36.7,40.0 C36.4,41.3 35.9,45.0 34.8,47.7 C33.7,50.4 31.5,53.9 30.0,56.4 C28.5,58.9 26.7,61.9 26.0,63.0" stroke="#d81f26" stroke-width="1.20" opacity="0.9"/>
<path d="M36.2,38.0 C35.7,37.5 34.0,35.8 33.0,34.8 C32.0,33.8 30.5,32.7 30.0,32.3" stroke="#d81f26" stroke-width="0.88" opacity="0.9"/>
<ellipse cx="36.7" cy="39.3" rx="1.50" ry="2.10" fill="#ee2a30" stroke="none"/>
<circle cx="50.6" cy="52.9" r="0.7" fill="#e01a1f" stroke="none"/>
</g></g>
<rect x="548.00" y="116.20" width="80.00" height="79.50" fill="#060303" />
<g transform="translate(548,116.2)" fill="none" stroke-linecap="round" stroke-linejoin="round">
<circle cx="65.4" cy="42.2" r="2.7" fill="#d8161a" opacity="0.4" filter="url(#glow)" stroke="none"/>
<g filter="url(#blur)">
<path d="M65.4,42.1 C64.1,41.3 60.6,38.3 57.7,37.3 C54.8,36.3 50.4,36.8 48.1,36.3 C45.9,35.8 46.1,35.0 44.2,34.4 C42.3,33.8 39.4,33.3 36.5,32.5 C33.6,31.7 29.8,30.6 26.9,29.6 C24.0,28.6 21.8,27.4 19.2,26.7 C16.6,26.0 12.8,25.6 11.5,25.4" stroke="#c0171c" stroke-width="0.9" opacity="0.55"/>
<path d="M48.1,36.3 C47.3,37.1 45.1,39.3 43.3,41.2 C41.5,43.1 39.9,46.7 37.5,47.9 C35.1,49.1 31.9,48.4 28.8,48.3 C25.8,48.2 22.1,47.2 19.2,47.5 C16.3,47.8 14.1,48.9 11.5,49.8 C8.9,50.7 5.1,52.2 3.8,52.7" stroke="#c0171c" stroke-width="0.9" opacity="0.55"/>
<path d="M66.4,39.2 C66.9,38.2 69.5,35.8 69.3,33.4 C69.1,31.0 66.9,27.2 65.4,24.8 C64.0,22.4 62.2,20.4 60.6,19.0 C59.0,17.6 56.6,16.6 55.8,16.1" stroke="#c0171c" stroke-width="0.6" opacity="0.44"/>
<path d="M65.0,46.0 C64.6,46.8 62.4,49.2 62.5,50.8 C62.6,52.4 64.0,53.5 65.4,55.6 C66.9,57.7 69.6,60.9 71.2,63.3 C72.8,65.7 75.1,68.3 75.1,70.1 C75.1,71.9 71.8,73.3 71.2,73.9" stroke="#c0171c" stroke-width="0.9" opacity="0.75"/>
<path d="M62.5,50.8 C61.7,51.9 59.0,55.2 57.7,57.5 C56.4,59.8 55.3,63.2 54.8,64.3" stroke="#c0171c" stroke-width="0.6" opacity="0.48"/>
<path d="M40.0,33.4 L41.4,27.5" stroke="#c0171c" stroke-width="0.4" opacity="0.31"/>
<path d="M65.4,42.1 C64.1,41.3 60.6,38.3 57.7,37.3 C54.8,36.3 50.4,36.8 48.1,36.3 C45.9,35.8 44.9,34.9 44.2,34.6" stroke="#d81f26" stroke-width="1.20" opacity="0.9"/>
<path d="M65.0,45.0 C64.6,45.8 63.0,48.1 62.8,49.5 C62.6,50.9 63.4,52.2 64.0,53.5 C64.6,54.8 66.1,56.4 66.5,57.0" stroke="#d81f26" stroke-width="1.04" opacity="0.9"/>
<ellipse cx="65.4" cy="42.2" rx="1.58" ry="2.21" fill="#ee2a30" stroke="none"/>
</g></g>
<rect x="629.80" y="116.20" width="80.00" height="79.50" fill="#060303" />
<g transform="translate(629.8,116.2)" fill="none" stroke-linecap="round" stroke-linejoin="round">
<circle cx="13.7" cy="40.1" r="2.7" fill="#d8161a" opacity="0.4" filter="url(#glow)" stroke="none"/>
<g filter="url(#blur)">
<path d="M13.7,40.1 C15.3,39.5 19.8,37.5 23.6,36.8 C27.5,36.1 32.4,36.2 36.8,35.7 C41.2,35.2 46.5,35.0 50.0,33.5 C53.5,32.0 55.9,29.6 57.7,26.9 C59.6,24.1 59.1,19.2 61.1,17.0 C63.1,14.8 66.8,14.4 69.9,13.7 C73.0,13.0 78.2,12.8 79.8,12.6" stroke="#c0171c" stroke-width="1.0" opacity="0.84"/>
<path d="M23.6,36.8 C24.2,35.5 27.4,32.0 26.9,29.1 C26.3,26.2 22.1,22.1 20.3,19.2 C18.5,16.3 15.7,14.3 15.9,11.5 C16.1,8.7 20.5,4.1 21.4,2.6" stroke="#c0171c" stroke-width="0.8" opacity="0.75"/>
<path d="M20.3,19.2 C19.0,20.5 14.1,24.0 12.6,26.9 C11.1,29.8 11.7,35.1 11.5,36.8" stroke="#c0171c" stroke-width="0.6" opacity="0.53"/>
<path d="M12.6,41.2 C12.2,42.9 9.9,47.6 9.9,51.1 C9.9,54.6 11.4,58.7 12.6,62.2 C13.8,65.7 15.7,69.3 17.0,72.1 C18.3,74.9 19.8,77.8 20.3,79.0" stroke="#c0171c" stroke-width="0.9" opacity="0.79"/>
<path d="M11.5,50.0 C13.2,50.7 18.3,52.8 21.4,54.4 C24.5,56.0 27.4,58.0 30.2,59.9 C33.0,61.8 34.6,64.8 37.9,65.5 C41.2,66.2 46.1,64.8 50.0,64.4 C53.9,64.0 57.8,63.3 61.1,63.3 C64.4,63.3 66.8,65.3 69.9,64.4 C73.0,63.5 78.2,58.8 79.8,57.7" stroke="#c0171c" stroke-width="0.9" opacity="0.79"/>
<path d="M43.4,35.7 C43.8,37.2 45.6,42.1 45.6,44.5 C45.6,46.9 42.3,48.2 43.4,50.0 C44.5,51.8 50.7,54.6 52.2,55.5" stroke="#c0171c" stroke-width="0.5" opacity="0.48"/>
<path d="M61.1,17.0 C60.7,15.3 59.0,9.8 58.8,7.0 C58.6,4.2 59.8,1.5 60.0,0.4" stroke="#c0171c" stroke-width="0.5" opacity="0.44"/>
<path d="M69.9,64.4 C69.5,65.3 67.0,69.2 67.7,70.0 C68.4,70.8 73.2,69.2 74.3,69.0" stroke="#c0171c" stroke-width="0.5" opacity="0.48"/>
<path d="M13.7,40.1 C15.3,39.5 19.8,37.5 23.6,36.8 C27.5,36.1 33.1,36.1 36.8,35.7 C40.5,35.3 44.5,34.7 46.0,34.5" stroke="#d81f26" stroke-width="1.28" opacity="0.9"/>
<path d="M12.6,41.2 C12.2,42.2 10.8,45.4 10.4,47.0 C10.0,48.6 9.8,49.4 9.9,51.1 C10.0,52.8 10.8,56.0 11.0,57.0" stroke="#d81f26" stroke-width="1.12" opacity="0.9"/>
<path d="M11.5,50.0 C12.4,50.4 15.3,51.6 17.0,52.3 C18.6,53.0 20.7,54.0 21.4,54.4" stroke="#d81f26" stroke-width="0.88" opacity="0.9"/>
<ellipse cx="13.7" cy="40.1" rx="1.58" ry="2.21" fill="#ee2a30" stroke="none"/>
<circle cx="78" cy="47.4" r="0.7" fill="#e01a1f" stroke="none"/>
</g></g>
<text x="552.2" y="47.1" font-size="10.7" textLength="28.3" lengthAdjust="spacingAndGlyphs" style="fill:#e2202a" stroke="#e2202a" stroke-width="0.3">MAP2</text>
<text x="596.2" y="100.9" font-size="10.4" textLength="26.7" lengthAdjust="spacingAndGlyphs" style="fill:#f2f2f2" >50 µm</text>
<rect x="607.10" y="104.00" width="16.50" height="3.80" fill="#fff" />
<text x="825.9" y="40.5" font-size="11.4" textLength="59.6" lengthAdjust="spacingAndGlyphs" >Total length</text>
<text transform="translate(733.2,129.2) rotate(-90)" font-size="10.5" text-anchor="middle" textLength="110.6" lengthAdjust="spacingAndGlyphs" >Total dendrite length/</text>
<text transform="translate(745.6,128.6) rotate(-90)" font-size="10.5" text-anchor="middle" textLength="61.2" lengthAdjust="spacingAndGlyphs" >neuron (µm)</text>
<line x1="788.4" y1="76.5" x2="788.4" y2="179.2" stroke="#5c5c5c" stroke-width="1" />
<line x1="784.1" y1="77" x2="788.4" y2="77" stroke="#5c5c5c" stroke-width="1" />
<text x="779.8" y="80.3" font-size="9.5" text-anchor="end" textLength="25" lengthAdjust="spacingAndGlyphs" style="fill:#3e3e3e" >2,000</text>
<line x1="784.1" y1="102.4" x2="788.4" y2="102.4" stroke="#5c5c5c" stroke-width="1" />
<text x="779.8" y="105.7" font-size="9.5" text-anchor="end" textLength="24.5" lengthAdjust="spacingAndGlyphs" style="fill:#3e3e3e" >1,500</text>
<line x1="784.1" y1="127.8" x2="788.4" y2="127.8" stroke="#5c5c5c" stroke-width="1" />
<text x="779.8" y="131.1" font-size="9.5" text-anchor="end" textLength="24.5" lengthAdjust="spacingAndGlyphs" style="fill:#3e3e3e" >1,000</text>
<line x1="784.1" y1="153.3" x2="788.4" y2="153.3" stroke="#5c5c5c" stroke-width="1" />
<text x="779.8" y="156.60000000000002" font-size="9.5" text-anchor="end" textLength="15.5" lengthAdjust="spacingAndGlyphs" style="fill:#3e3e3e" >500</text>
<line x1="784.1" y1="178.7" x2="788.4" y2="178.7" stroke="#5c5c5c" stroke-width="1" />
<text x="779.8" y="182.0" font-size="9.5" text-anchor="end" textLength="5.2" lengthAdjust="spacingAndGlyphs" style="fill:#3e3e3e" >0</text>
<line x1="785" y1="178.7" x2="899.7" y2="178.7" stroke="#5c5c5c" stroke-width="1" />
<rect x="797.00" y="116.30" width="14.40" height="62.40" fill="#939598" stroke="#3a3a3a" stroke-width="0.75" />
<rect x="823.80" y="151.10" width="14.30" height="27.60" fill="#f7941d" stroke="#3a3a3a" stroke-width="0.75" />
<rect x="850.80" y="121.70" width="14.40" height="57.00" fill="url(#dash)" stroke="#3a3a3a" stroke-width="0.75" />
<rect x="877.50" y="121.30" width="14.60" height="57.40" fill="url(#hatch)" stroke="#3a3a3a" stroke-width="0.75" />
<line x1="804.2" y1="178.7" x2="804.2" y2="183" stroke="#5c5c5c" stroke-width="1" />
<line x1="830.9" y1="178.7" x2="830.9" y2="183" stroke="#5c5c5c" stroke-width="1" />
<line x1="858" y1="178.7" x2="858" y2="183" stroke="#5c5c5c" stroke-width="1" />
<line x1="884.8" y1="178.7" x2="884.8" y2="183" stroke="#5c5c5c" stroke-width="1" />
<path d="M804.2,109.8V121.6M800.6,109.8H807.8000000000001M800.6,121.6H807.8000000000001" fill="none" stroke="#222" stroke-width="0.8" />
<path d="M830.9,147.3V152.6M827.3,147.3H834.5M827.3,152.6H834.5" fill="none" stroke="#222" stroke-width="0.8" />
<path d="M858,119.3V124.1M854.4,119.3H861.6M854.4,124.1H861.6" fill="none" stroke="#222" stroke-width="0.8" />
<path d="M884.8,119.6V123M881.1999999999999,119.6H888.4M881.1999999999999,123H888.4" fill="none" stroke="#222" stroke-width="0.8" />
<g fill="#141414"><circle cx="798.2" cy="104.0" r="2.15"/><circle cx="809.4" cy="104.0" r="2.15"/><circle cx="804.0" cy="114.0" r="2.15"/><circle cx="804.0" cy="120.3" r="2.15"/><circle cx="803.6" cy="125.6" r="2.15"/><circle cx="804.0" cy="130.7" r="2.15"/></g>
<g fill="#141414"><circle cx="830.7" cy="144.9" r="2.15"/><circle cx="836.5" cy="145.8" r="2.15"/><circle cx="824.9" cy="148.8" r="2.15"/><circle cx="837.2" cy="151.2" r="2.15"/><circle cx="827.9" cy="152.8" r="2.15"/><circle cx="833.0" cy="153.0" r="2.15"/><circle cx="830.7" cy="158.1" r="2.15"/></g>
<g fill="#141414"><circle cx="852.3" cy="114.5" r="2.15"/><circle cx="863.9" cy="115.2" r="2.15"/><circle cx="858.1" cy="118.7" r="2.15"/><circle cx="852.8" cy="122.1" r="2.15"/><circle cx="863.9" cy="123.3" r="2.15"/><circle cx="858.1" cy="124.5" r="2.15"/><circle cx="857.7" cy="131.4" r="2.15"/></g>
<g fill="#141414"><circle cx="882.5" cy="115.9" r="2.15"/><circle cx="887.6" cy="115.9" r="2.15"/><circle cx="884.8" cy="120.3" r="2.15"/><circle cx="879.0" cy="123.3" r="2.15"/><circle cx="890.6" cy="123.3" r="2.15"/><circle cx="881.3" cy="122.1" r="2.15"/><circle cx="888.3" cy="122.1" r="2.15"/></g>
<path d="M803.5,94.3V87.7H830.6V134.9" fill="none" stroke="#333" stroke-width="0.9" />
<path d="M830.5,71.2V67.1H884.6V110" fill="none" stroke="#333" stroke-width="0.9" />
<path d="M808.10,80.80 L808.89,82.71 L810.95,82.87 L809.38,84.22 L809.86,86.23 L808.10,85.15 L806.34,86.23 L806.82,84.22 L805.25,82.87 L807.31,82.71ZM814.10,80.80 L814.89,82.71 L816.95,82.87 L815.38,84.22 L815.86,86.23 L814.10,85.15 L812.34,86.23 L812.82,84.22 L811.25,82.87 L813.31,82.71ZM820.10,80.80 L820.89,82.71 L822.95,82.87 L821.38,84.22 L821.86,86.23 L820.10,85.15 L818.34,86.23 L818.82,84.22 L817.25,82.87 L819.31,82.71ZM826.10,80.80 L826.89,82.71 L828.95,82.87 L827.38,84.22 L827.86,86.23 L826.10,85.15 L824.34,86.23 L824.82,84.22 L823.25,82.87 L825.31,82.71Z" fill="#424242"/>
<path d="M851.90,59.90 L852.69,61.81 L854.75,61.97 L853.18,63.32 L853.66,65.33 L851.90,64.25 L850.14,65.33 L850.62,63.32 L849.05,61.97 L851.11,61.81ZM857.90,59.90 L858.69,61.81 L860.75,61.97 L859.18,63.32 L859.66,65.33 L857.90,64.25 L856.14,65.33 L856.62,63.32 L855.05,61.97 L857.11,61.81ZM863.90,59.90 L864.69,61.81 L866.75,61.97 L865.18,63.32 L865.66,65.33 L863.90,64.25 L862.14,65.33 L862.62,63.32 L861.05,61.97 L863.11,61.81Z" fill="#424242"/>
<text x="795.0" y="194.0" font-size="9.5" textLength="15.2" lengthAdjust="spacingAndGlyphs" style="fill:#3e3e3e" >Ctrl</text>
<text x="817.5" y="194.0" font-size="9.5" textLength="26.3" lengthAdjust="spacingAndGlyphs" style="fill:#3e3e3e" >Ftl1OE</text>
<text x="849.6" y="194.0" font-size="9.5" textLength="15.6" lengthAdjust="spacingAndGlyphs" style="fill:#3e3e3e" >Ctrl</text>
<text x="871.6" y="194.0" font-size="9.5" textLength="26.9" lengthAdjust="spacingAndGlyphs" style="fill:#3e3e3e" >Ftl1OE</text>
<line x1="795.4" y1="197" x2="834.8" y2="197" stroke="#555" stroke-width="1.05" />
<line x1="850" y1="197" x2="890.4" y2="197" stroke="#555" stroke-width="1.05" />
<text x="815" y="208.3" font-size="9.3" text-anchor="middle" textLength="17.8" lengthAdjust="spacingAndGlyphs" style="fill:#3e3e3e" >+Sal</text>
<text x="870.8" y="208.3" font-size="9.3" text-anchor="middle" textLength="29" lengthAdjust="spacingAndGlyphs" style="fill:#3e3e3e" >+NADH</text>
<text x="1024.8" y="40.5" font-size="11.4" text-anchor="middle" textLength="25.4" lengthAdjust="spacingAndGlyphs" >Total</text>
<text x="1024.9" y="53.6" font-size="11.4" text-anchor="middle" textLength="65.6" lengthAdjust="spacingAndGlyphs" >intersections</text>
<text transform="translate(924.2,128) rotate(-90)" font-size="10.5" text-anchor="middle" textLength="96.9" lengthAdjust="spacingAndGlyphs" >Total Intersections</text>
<text transform="translate(935.6,129.1) rotate(-90)" font-size="10.5" text-anchor="middle" textLength="94" lengthAdjust="spacingAndGlyphs" >(in 300-µm radius)</text>
<line x1="969.2" y1="77.5" x2="969.2" y2="179.2" stroke="#5c5c5c" stroke-width="1" />
<line x1="964.9000000000001" y1="78" x2="969.2" y2="78" stroke="#5c5c5c" stroke-width="1" />
<text x="961" y="81.3" font-size="9.5" text-anchor="end" textLength="14.5" lengthAdjust="spacingAndGlyphs" style="fill:#3e3e3e" >150</text>
<line x1="964.9000000000001" y1="111.6" x2="969.2" y2="111.6" stroke="#5c5c5c" stroke-width="1" />
<text x="961" y="114.89999999999999" font-size="9.5" text-anchor="end" textLength="14.5" lengthAdjust="spacingAndGlyphs" style="fill:#3e3e3e" >100</text>
<line x1="964.9000000000001" y1="145.1" x2="969.2" y2="145.1" stroke="#5c5c5c" stroke-width="1" />
<text x="961" y="148.4" font-size="9.5" text-anchor="end" textLength="10" lengthAdjust="spacingAndGlyphs" style="fill:#3e3e3e" >50</text>
<line x1="964.9000000000001" y1="178.7" x2="969.2" y2="178.7" stroke="#5c5c5c" stroke-width="1" />
<text x="961" y="182.0" font-size="9.5" text-anchor="end" textLength="5.2" lengthAdjust="spacingAndGlyphs" style="fill:#3e3e3e" >0</text>
<line x1="965.8" y1="178.7" x2="1080" y2="178.7" stroke="#5c5c5c" stroke-width="1" />
<rect x="977.10" y="119.00" width="14.90" height="59.70" fill="#939598" stroke="#3a3a3a" stroke-width="0.75" />
<rect x="1004.10" y="147.60" width="14.30" height="31.10" fill="#f7941d" stroke="#3a3a3a" stroke-width="0.75" />
<rect x="1030.80" y="121.40" width="14.50" height="57.30" fill="url(#dash)" stroke="#3a3a3a" stroke-width="0.75" />
<rect x="1057.50" y="114.80" width="14.70" height="63.90" fill="url(#hatch)" stroke="#3a3a3a" stroke-width="0.75" />
<line x1="984.6" y1="178.7" x2="984.6" y2="183" stroke="#5c5c5c" stroke-width="1" />
<line x1="1011.3" y1="178.7" x2="1011.3" y2="183" stroke="#5c5c5c" stroke-width="1" />
<line x1="1038" y1="178.7" x2="1038" y2="183" stroke="#5c5c5c" stroke-width="1" />
<line x1="1064.8" y1="178.7" x2="1064.8" y2="183" stroke="#5c5c5c" stroke-width="1" />
<path d="M984.6,109.8V126.7M980.6,109.8H988.6M980.6,126.7H988.6" fill="none" stroke="#222" stroke-width="0.8" />
<path d="M1011.3,145.7V149.2M1007.6999999999999,145.7H1014.9M1007.6999999999999,149.2H1014.9" fill="none" stroke="#222" stroke-width="0.8" />
<path d="M1038,115.8V126.7M1034,115.8H1042M1034,126.7H1042" fill="none" stroke="#222" stroke-width="0.8" />
<path d="M1064.8,110.5V117.5M1060.8,110.5H1068.8M1060.8,117.5H1068.8" fill="none" stroke="#222" stroke-width="0.8" />
<g fill="#141414"><circle cx="984.7" cy="99.4" r="2.15"/><circle cx="978.9" cy="108.9" r="2.15"/><circle cx="990.0" cy="108.2" r="2.15"/><circle cx="984.7" cy="129.1" r="2.15"/><circle cx="984.7" cy="145.3" r="2.15"/></g>
<g fill="#141414"><circle cx="1017.2" cy="142.5" r="2.15"/><circle cx="1006.0" cy="145.7" r="2.15"/><circle cx="1009.5" cy="145.7" r="2.15"/><circle cx="1016.5" cy="147.1" r="2.15"/><circle cx="1013.0" cy="148.8" r="2.15"/><circle cx="1005.6" cy="151.1" r="2.15"/></g>
<g fill="#141414"><circle cx="1032.2" cy="115.1" r="2.15"/><circle cx="1043.8" cy="116.8" r="2.15"/><circle cx="1037.6" cy="129.5" r="2.15"/></g>
<g fill="#141414"><circle cx="1064.7" cy="106.6" r="2.15"/><circle cx="1058.9" cy="110.5" r="2.15"/><circle cx="1070.5" cy="110.5" r="2.15"/><circle cx="1064.7" cy="113.3" r="2.15"/><circle cx="1064.7" cy="128.4" r="2.15"/></g>
<path d="M984,92.4V87.3H1011.4V137.2" fill="none" stroke="#333" stroke-width="0.9" />
<path d="M1009,71V67.1H1064.7V104.7" fill="none" stroke="#333" stroke-width="0.9" />
<path d="M994.40,80.30 L995.19,82.21 L997.25,82.37 L995.68,83.72 L996.16,85.73 L994.40,84.65 L992.64,85.73 L993.12,83.72 L991.55,82.37 L993.61,82.21ZM1000.40,80.30 L1001.19,82.21 L1003.25,82.37 L1001.68,83.72 L1002.16,85.73 L1000.40,84.65 L998.64,85.73 L999.12,83.72 L997.55,82.37 L999.61,82.21Z" fill="#424242"/>
<path d="M1033.40,59.90 L1034.19,61.81 L1036.25,61.97 L1034.68,63.32 L1035.16,65.33 L1033.40,64.25 L1031.64,65.33 L1032.12,63.32 L1030.55,61.97 L1032.61,61.81ZM1039.40,59.90 L1040.19,61.81 L1042.25,61.97 L1040.68,63.32 L1041.16,65.33 L1039.40,64.25 L1037.64,65.33 L1038.12,63.32 L1036.55,61.97 L1038.61,61.81Z" fill="#424242"/>
<text x="975.6" y="193.89999999999998" font-size="9.5" textLength="15.8" lengthAdjust="spacingAndGlyphs" style="fill:#3e3e3e" >Ctrl</text>
<text x="997.5" y="193.89999999999998" font-size="9.5" textLength="26.9" lengthAdjust="spacingAndGlyphs" style="fill:#3e3e3e" >Ftl1OE</text>
<text x="1029.6" y="193.89999999999998" font-size="9.5" textLength="15.8" lengthAdjust="spacingAndGlyphs" style="fill:#3e3e3e" >Ctrl</text>
<text x="1051.6" y="193.89999999999998" font-size="9.5" textLength="26.3" lengthAdjust="spacingAndGlyphs" style="fill:#3e3e3e" >Ftl1OE</text>
<line x1="976" y1="197" x2="1015.4" y2="197" stroke="#555" stroke-width="1.05" />
<line x1="1030" y1="197" x2="1071" y2="197" stroke="#555" stroke-width="1.05" />
<text x="995.6" y="208.1" font-size="9.3" text-anchor="middle" textLength="17.8" lengthAdjust="spacingAndGlyphs" style="fill:#3e3e3e" >+Sal</text>
<text x="1050.5" y="208.1" font-size="9.3" text-anchor="middle" textLength="29" lengthAdjust="spacingAndGlyphs" style="fill:#3e3e3e" >+NADH</text>
<text x="86.5" y="251.8" font-size="11.4" textLength="182.8" lengthAdjust="spacingAndGlyphs" >Number of intersections vs distance</text>
<text x="114" y="427.4" font-size="10.4" textLength="127.8" lengthAdjust="spacingAndGlyphs" >Distance from soma (µm)</text>
<text transform="translate(10.4,329.4) rotate(-90)" font-size="10.4" text-anchor="middle" textLength="126.5" lengthAdjust="spacingAndGlyphs" >Number of intersecctions</text>
<line x1="33.6" y1="259.3" x2="33.6" y2="397.9" stroke="#5c5c5c" stroke-width="1" />
<line x1="33.1" y1="397.4" x2="320.8" y2="397.4" stroke="#5c5c5c" stroke-width="1" />
<line x1="29.3" y1="397.4" x2="33.6" y2="397.4" stroke="#5c5c5c" stroke-width="1" />
<text x="25.2" y="400.5" font-size="8.6" text-anchor="end" textLength="5.2" lengthAdjust="spacingAndGlyphs" style="fill:#3e3e3e" >0</text>
<line x1="29.3" y1="363.08" x2="33.6" y2="363.08" stroke="#5c5c5c" stroke-width="1" />
<text x="25.2" y="366.18" font-size="8.6" text-anchor="end" textLength="5.2" lengthAdjust="spacingAndGlyphs" style="fill:#3e3e3e" >2</text>
<line x1="29.3" y1="328.76" x2="33.6" y2="328.76" stroke="#5c5c5c" stroke-width="1" />
<text x="25.2" y="331.86" font-size="8.6" text-anchor="end" textLength="5.2" lengthAdjust="spacingAndGlyphs" style="fill:#3e3e3e" >4</text>
<line x1="29.3" y1="294.43999999999994" x2="33.6" y2="294.43999999999994" stroke="#5c5c5c" stroke-width="1" />
<text x="25.2" y="297.53999999999996" font-size="8.6" text-anchor="end" textLength="5.2" lengthAdjust="spacingAndGlyphs" style="fill:#3e3e3e" >6</text>
<line x1="29.3" y1="260.12" x2="33.6" y2="260.12" stroke="#5c5c5c" stroke-width="1" />
<text x="25.2" y="263.22" font-size="8.6" text-anchor="end" textLength="5.2" lengthAdjust="spacingAndGlyphs" style="fill:#3e3e3e" >8</text>
<line x1="33.6" y1="397.4" x2="33.6" y2="401.6" stroke="#5c5c5c" stroke-width="0.9" />
<line x1="43.156000000000006" y1="397.4" x2="43.156000000000006" y2="399.7" stroke="#5c5c5c" stroke-width="0.9" />
<line x1="52.712" y1="397.4" x2="52.712" y2="399.7" stroke="#5c5c5c" stroke-width="0.9" />
<line x1="62.268" y1="397.4" x2="62.268" y2="399.7" stroke="#5c5c5c" stroke-width="0.9" />
<line x1="71.82400000000001" y1="397.4" x2="71.82400000000001" y2="399.7" stroke="#5c5c5c" stroke-width="0.9" />
<line x1="81.38" y1="397.4" x2="81.38" y2="399.7" stroke="#5c5c5c" stroke-width="0.9" />
<line x1="90.936" y1="397.4" x2="90.936" y2="399.7" stroke="#5c5c5c" stroke-width="0.9" />
<line x1="100.49199999999999" y1="397.4" x2="100.49199999999999" y2="399.7" stroke="#5c5c5c" stroke-width="0.9" />
<line x1="110.048" y1="397.4" x2="110.048" y2="399.7" stroke="#5c5c5c" stroke-width="0.9" />
<line x1="119.60400000000001" y1="397.4" x2="119.60400000000001" y2="399.7" stroke="#5c5c5c" stroke-width="0.9" />
<line x1="129.16" y1="397.4" x2="129.16" y2="401.6" stroke="#5c5c5c" stroke-width="0.9" />
<line x1="138.716" y1="397.4" x2="138.716" y2="399.7" stroke="#5c5c5c" stroke-width="0.9" />
<line x1="148.272" y1="397.4" x2="148.272" y2="399.7" stroke="#5c5c5c" stroke-width="0.9" />
<line x1="157.828" y1="397.4" x2="157.828" y2="399.7" stroke="#5c5c5c" stroke-width="0.9" />
<line x1="167.384" y1="397.4" x2="167.384" y2="399.7" stroke="#5c5c5c" stroke-width="0.9" />
<line x1="176.94" y1="397.4" x2="176.94" y2="399.7" stroke="#5c5c5c" stroke-width="0.9" />
<line x1="186.496" y1="397.4" x2="186.496" y2="399.7" stroke="#5c5c5c" stroke-width="0.9" />
<line x1="196.052" y1="397.4" x2="196.052" y2="399.7" stroke="#5c5c5c" stroke-width="0.9" />
<line x1="205.608" y1="397.4" x2="205.608" y2="399.7" stroke="#5c5c5c" stroke-width="0.9" />
<line x1="215.164" y1="397.4" x2="215.164" y2="399.7" stroke="#5c5c5c" stroke-width="0.9" />
<line x1="224.72" y1="397.4" x2="224.72" y2="401.6" stroke="#5c5c5c" stroke-width="0.9" />
<line x1="234.27599999999998" y1="397.4" x2="234.27599999999998" y2="399.7" stroke="#5c5c5c" stroke-width="0.9" />
<line x1="243.832" y1="397.4" x2="243.832" y2="399.7" stroke="#5c5c5c" stroke-width="0.9" />
<line x1="253.388" y1="397.4" x2="253.388" y2="399.7" stroke="#5c5c5c" stroke-width="0.9" />
<line x1="262.944" y1="397.4" x2="262.944" y2="399.7" stroke="#5c5c5c" stroke-width="0.9" />
<line x1="272.5" y1="397.4" x2="272.5" y2="399.7" stroke="#5c5c5c" stroke-width="0.9" />
<line x1="282.056" y1="397.4" x2="282.056" y2="399.7" stroke="#5c5c5c" stroke-width="0.9" />
<line x1="291.612" y1="397.4" x2="291.612" y2="399.7" stroke="#5c5c5c" stroke-width="0.9" />
<line x1="301.168" y1="397.4" x2="301.168" y2="399.7" stroke="#5c5c5c" stroke-width="0.9" />
<line x1="310.72400000000005" y1="397.4" x2="310.72400000000005" y2="399.7" stroke="#5c5c5c" stroke-width="0.9" />
<line x1="320.28000000000003" y1="397.4" x2="320.28000000000003" y2="401.6" stroke="#5c5c5c" stroke-width="0.9" />
<text x="33.6" y="412.3" font-size="8.6" text-anchor="middle" textLength="5.2" lengthAdjust="spacingAndGlyphs" style="fill:#3e3e3e" >0</text>
<text x="129.16" y="412.3" font-size="8.6" text-anchor="middle" textLength="14.8" lengthAdjust="spacingAndGlyphs" style="fill:#3e3e3e" >100</text>
<text x="224.72" y="412.3" font-size="8.6" text-anchor="middle" textLength="15.4" lengthAdjust="spacingAndGlyphs" style="fill:#3e3e3e" >200</text>
<text x="320.28000000000003" y="412.3" font-size="8.6" text-anchor="middle" textLength="15.4" lengthAdjust="spacingAndGlyphs" style="fill:#3e3e3e" >300</text>
<path d="M33.6,322.8V338.2M31.3,322.8H35.9M31.3,338.2H35.9M43.2,321.9V337.3M40.9,321.9H45.5M40.9,337.3H45.5M52.7,315.0V332.2M50.4,315.0H55.0M50.4,332.2H55.0M62.3,282.4V309.9M60.0,282.4H64.6M60.0,309.9H64.6M71.8,291.0V315.0M69.5,291.0H74.1M69.5,315.0H74.1M81.4,279.0V306.5M79.1,279.0H83.7M79.1,306.5H83.7M90.9,285.9V309.9M88.6,285.9H93.2M88.6,309.9H93.2M100.5,273.0V302.2M98.2,273.0H102.8M98.2,302.2H102.8M110.0,275.6V306.5M107.7,275.6H112.3M107.7,306.5H112.3M119.6,294.4V325.3M117.3,294.4H121.9M117.3,325.3H121.9M129.2,301.3V332.2M126.9,301.3H131.5M126.9,332.2H131.5M138.7,306.8V337.7M136.4,306.8H141.0M136.4,337.7H141.0M148.3,318.5V345.9M146.0,318.5H150.6M146.0,345.9H150.6M157.8,325.3V351.1M155.5,325.3H160.1M155.5,351.1H160.1M167.4,330.5V354.5M165.1,330.5H169.7M165.1,354.5H169.7M176.9,344.2V364.8M174.6,344.2H179.2M174.6,364.8H179.2M186.5,349.4V369.9M184.2,349.4H188.8M184.2,369.9H188.8M196.1,343.7V366.0M193.8,343.7H198.4M193.8,366.0H198.4M205.6,356.4V375.3M203.3,356.4H207.9M203.3,375.3H207.9M215.2,375.6V387.6M212.9,375.6H217.5M212.9,387.6H217.5M224.7,383.7V392.3M222.4,383.7H227.0M222.4,392.3H227.0M234.3,385.4V392.9M232.0,385.4H236.6M232.0,392.9H236.6M243.8,385.4V392.9M241.5,385.4H246.1M241.5,392.9H246.1M253.4,388.1V394.3M251.1,388.1H255.7M251.1,394.3H255.7M262.9,390.0V395.2M260.6,390.0H265.2M260.6,395.2H265.2M272.5,391.9V396.0M270.2,391.9H274.8M270.2,396.0H274.8M282.1,393.1V396.5M279.8,393.1H284.4M279.8,396.5H284.4M291.6,395.0V397.1M289.3,395.0H293.9M289.3,397.1H293.9M301.2,396.0V397.4M298.9,396.0H303.5M298.9,397.4H303.5" fill="none" stroke="#c9cbcd" stroke-width="0.9" />
<path d="M33.6,330.5 L43.2,329.6 L52.7,323.6 L62.3,296.2 L71.8,303.0 L81.4,292.7 L90.9,297.9 L100.5,287.6 L110.0,291.0 L119.6,309.9 L129.2,316.7 L138.7,322.2 L148.3,332.2 L157.8,338.2 L167.4,342.5 L176.9,354.5 L186.5,359.6 L196.1,354.8 L205.6,365.8 L215.2,381.6 L224.7,388.0 L234.3,389.2 L243.8,389.2 L253.4,391.2 L262.9,392.6 L272.5,394.0 L282.1,394.8 L291.6,396.0 L301.2,396.7 L310.7,397.1 L320.3,397.4" fill="none" stroke="#bdbfc1" stroke-width="1.35" stroke-linejoin="round"/>
<g fill="#bdbfc1"><circle cx="33.6" cy="330.5" r="1.8"/><circle cx="43.2" cy="329.6" r="1.8"/><circle cx="52.7" cy="323.6" r="1.8"/><circle cx="62.3" cy="296.2" r="1.8"/><circle cx="71.8" cy="303.0" r="1.8"/><circle cx="81.4" cy="292.7" r="1.8"/><circle cx="90.9" cy="297.9" r="1.8"/><circle cx="100.5" cy="287.6" r="1.8"/><circle cx="110.0" cy="291.0" r="1.8"/><circle cx="119.6" cy="309.9" r="1.8"/><circle cx="129.2" cy="316.7" r="1.8"/><circle cx="138.7" cy="322.2" r="1.8"/><circle cx="148.3" cy="332.2" r="1.8"/><circle cx="157.8" cy="338.2" r="1.8"/><circle cx="167.4" cy="342.5" r="1.8"/><circle cx="176.9" cy="354.5" r="1.8"/><circle cx="186.5" cy="359.6" r="1.8"/><circle cx="196.1" cy="354.8" r="1.8"/><circle cx="205.6" cy="365.8" r="1.8"/><circle cx="215.2" cy="381.6" r="1.8"/><circle cx="224.7" cy="388.0" r="1.8"/><circle cx="234.3" cy="389.2" r="1.8"/><circle cx="243.8" cy="389.2" r="1.8"/><circle cx="253.4" cy="391.2" r="1.8"/><circle cx="262.9" cy="392.6" r="1.8"/><circle cx="272.5" cy="394.0" r="1.8"/><circle cx="282.1" cy="394.8" r="1.8"/><circle cx="291.6" cy="396.0" r="1.8"/><circle cx="301.2" cy="396.7" r="1.8"/><circle cx="310.7" cy="397.1" r="1.8"/><circle cx="320.3" cy="397.4" r="1.8"/></g>
<path d="M33.6,326.5V336.1M31.3,326.5H35.9M31.3,336.1H35.9M43.2,325.7V335.3M40.9,325.7H45.5M40.9,335.3H45.5M52.7,320.2V330.5M50.4,320.2H55.0M50.4,330.5H55.0M62.3,311.6V321.9M60.0,311.6H64.6M60.0,321.9H64.6M71.8,318.5V328.8M69.5,318.5H74.1M69.5,328.8H74.1M81.4,330.5V339.1M79.1,330.5H83.7M79.1,339.1H83.7M90.9,335.6V344.2M88.6,335.6H93.2M88.6,344.2H93.2M100.5,344.2V352.8M98.2,344.2H102.8M98.2,352.8H102.8M110.0,351.9V362.2M107.7,351.9H112.3M107.7,362.2H112.3M119.6,351.9V363.9M117.3,351.9H121.9M117.3,363.9H121.9M129.2,348.2V362.6M126.9,348.2H131.5M126.9,362.6H131.5M138.7,363.3V373.5M136.4,363.3H141.0M136.4,373.5H141.0M148.3,368.9V377.5M146.0,368.9H150.6M146.0,377.5H150.6M157.8,372.7V380.2M155.5,372.7H160.1M155.5,380.2H160.1M167.4,377.7V384.5M165.1,377.7H169.7M165.1,384.5H169.7M176.9,379.9V386.1M174.6,379.9H179.2M174.6,386.1H179.2M186.5,379.0V385.9M184.2,379.0H188.8M184.2,385.9H188.8M196.1,383.2V389.3M193.8,383.2H198.4M193.8,389.3H198.4M205.6,385.4V390.5M203.3,385.4H207.9M203.3,390.5H207.9M215.2,391.4V394.8M212.9,391.4H217.5M212.9,394.8H217.5M224.7,392.9V395.7M222.4,392.9H227.0M222.4,395.7H227.0M234.3,394.3V396.4M232.0,394.3H236.6M232.0,396.4H236.6M243.8,395.0V396.7M241.5,395.0H246.1M241.5,396.7H246.1M253.4,395.5V396.9M251.1,395.5H255.7M251.1,396.9H255.7M262.9,395.5V396.9M260.6,395.5H265.2M260.6,396.9H265.2M272.5,395.5V396.9M270.2,395.5H274.8M270.2,396.9H274.8" fill="none" stroke="#f9a94a" stroke-width="0.9" />
<path d="M33.6,331.3 L43.2,330.5 L52.7,325.3 L62.3,316.7 L71.8,323.6 L81.4,334.8 L90.9,339.9 L100.5,348.5 L110.0,357.1 L119.6,357.9 L129.2,355.4 L138.7,368.4 L148.3,373.2 L157.8,376.5 L167.4,381.1 L176.9,383.0 L186.5,382.5 L196.1,386.2 L205.6,388.0 L215.2,393.1 L224.7,394.3 L234.3,395.3 L243.8,395.9 L253.4,396.2 L262.9,396.2 L272.5,396.2 L282.1,396.9 L291.6,397.2 L301.2,397.4 L310.7,397.4 L320.3,397.4" fill="none" stroke="#f7941d" stroke-width="1.35" stroke-linejoin="round"/>
<g fill="#f7941d"><circle cx="33.6" cy="331.3" r="1.8"/><circle cx="43.2" cy="330.5" r="1.8"/><circle cx="52.7" cy="325.3" r="1.8"/><circle cx="62.3" cy="316.7" r="1.8"/><circle cx="71.8" cy="323.6" r="1.8"/><circle cx="81.4" cy="334.8" r="1.8"/><circle cx="90.9" cy="339.9" r="1.8"/><circle cx="100.5" cy="348.5" r="1.8"/><circle cx="110.0" cy="357.1" r="1.8"/><circle cx="119.6" cy="357.9" r="1.8"/><circle cx="129.2" cy="355.4" r="1.8"/><circle cx="138.7" cy="368.4" r="1.8"/><circle cx="148.3" cy="373.2" r="1.8"/><circle cx="157.8" cy="376.5" r="1.8"/><circle cx="167.4" cy="381.1" r="1.8"/><circle cx="176.9" cy="383.0" r="1.8"/><circle cx="186.5" cy="382.5" r="1.8"/><circle cx="196.1" cy="386.2" r="1.8"/><circle cx="205.6" cy="388.0" r="1.8"/><circle cx="215.2" cy="393.1" r="1.8"/><circle cx="224.7" cy="394.3" r="1.8"/><circle cx="234.3" cy="395.3" r="1.8"/><circle cx="243.8" cy="395.9" r="1.8"/><circle cx="253.4" cy="396.2" r="1.8"/><circle cx="262.9" cy="396.2" r="1.8"/><circle cx="272.5" cy="396.2" r="1.8"/><circle cx="282.1" cy="396.9" r="1.8"/><circle cx="291.6" cy="397.2" r="1.8"/><circle cx="301.2" cy="397.4" r="1.8"/><circle cx="310.7" cy="397.4" r="1.8"/><circle cx="320.3" cy="397.4" r="1.8"/></g>
<path d="M33.6,330.5V342.5M31.3,330.5H35.9M31.3,342.5H35.9M43.2,330.5V342.5M40.9,330.5H45.5M40.9,342.5H45.5M52.7,320.2V333.9M50.4,320.2H55.0M50.4,333.9H55.0M62.3,311.6V325.3M60.0,311.6H64.6M60.0,325.3H64.6M71.8,296.2V311.6M69.5,296.2H74.1M69.5,311.6H74.1M81.4,301.3V316.7M79.1,301.3H83.7M79.1,316.7H83.7M90.9,301.3V316.7M88.6,301.3H93.2M88.6,316.7H93.2M100.5,309.9V323.6M98.2,309.9H102.8M98.2,323.6H102.8M110.0,300.4V315.9M107.7,300.4H112.3M107.7,315.9H112.3M119.6,301.8V319.0M117.3,301.8H121.9M117.3,319.0H121.9M129.2,295.8V316.4M126.9,295.8H131.5M126.9,316.4H131.5M138.7,292.2V317.9M136.4,292.2H141.0M136.4,317.9H141.0M148.3,297.7V323.4M146.0,297.7H150.6M146.0,323.4H150.6M157.8,307.7V331.7M155.5,307.7H160.1M155.5,331.7H160.1M167.4,315.0V335.6M165.1,315.0H169.7M165.1,335.6H169.7M176.9,315.9V336.5M174.6,315.9H179.2M174.6,336.5H179.2M186.5,324.0V344.5M184.2,324.0H188.8M184.2,344.5H188.8M196.1,336.5V357.1M193.8,336.5H198.4M193.8,357.1H198.4M205.6,349.5V366.7M203.3,349.5H207.9M203.3,366.7H207.9M215.2,342.5V363.1M212.9,342.5H217.5M212.9,363.1H217.5M224.7,356.9V374.1M222.4,356.9H227.0M222.4,374.1H227.0M234.3,367.9V381.6M232.0,367.9H236.6M232.0,381.6H236.6M243.8,370.5V383.5M241.5,370.5H246.1M241.5,383.5H246.1M253.4,374.9V385.9M251.1,374.9H255.7M251.1,385.9H255.7M262.9,378.9V388.5M260.6,378.9H265.2M260.6,388.5H265.2M272.5,383.3V391.6M270.2,383.3H274.8M270.2,391.6H274.8M282.1,385.9V392.8M279.8,385.9H284.4M279.8,392.8H284.4M291.6,389.7V394.8M289.3,389.7H293.9M289.3,394.8H293.9M301.2,392.6V396.0M298.9,392.6H303.5M298.9,396.0H303.5M310.7,395.5V397.2M308.4,395.5H313.0M308.4,397.2H313.0M320.3,396.4V397.4M318.0,396.4H322.6M318.0,397.4H322.6" fill="none" stroke="#f37a55" stroke-width="0.9" />
<path d="M33.6,336.5 L43.2,336.5 L52.7,327.0 L62.3,318.5 L71.8,303.9 L81.4,309.0 L90.9,309.0 L100.5,316.7 L110.0,308.2 L119.6,310.4 L129.2,306.1 L138.7,305.1 L148.3,310.6 L157.8,319.7 L167.4,325.3 L176.9,326.2 L186.5,334.3 L196.1,346.8 L205.6,358.1 L215.2,352.8 L224.7,365.5 L234.3,374.7 L243.8,377.0 L253.4,380.4 L262.9,383.7 L272.5,387.4 L282.1,389.3 L291.6,392.3 L301.2,394.3 L310.7,396.4 L320.3,396.9" fill="none" stroke="#f1592a" stroke-width="1.35" stroke-linejoin="round"/>
<g fill="#f1592a"><circle cx="33.6" cy="336.5" r="1.8"/><circle cx="43.2" cy="336.5" r="1.8"/><circle cx="52.7" cy="327.0" r="1.8"/><circle cx="62.3" cy="318.5" r="1.8"/><circle cx="71.8" cy="303.9" r="1.8"/><circle cx="81.4" cy="309.0" r="1.8"/><circle cx="90.9" cy="309.0" r="1.8"/><circle cx="100.5" cy="316.7" r="1.8"/><circle cx="110.0" cy="308.2" r="1.8"/><circle cx="119.6" cy="310.4" r="1.8"/><circle cx="129.2" cy="306.1" r="1.8"/><circle cx="138.7" cy="305.1" r="1.8"/><circle cx="148.3" cy="310.6" r="1.8"/><circle cx="157.8" cy="319.7" r="1.8"/><circle cx="167.4" cy="325.3" r="1.8"/><circle cx="176.9" cy="326.2" r="1.8"/><circle cx="186.5" cy="334.3" r="1.8"/><circle cx="196.1" cy="346.8" r="1.8"/><circle cx="205.6" cy="358.1" r="1.8"/><circle cx="215.2" cy="352.8" r="1.8"/><circle cx="224.7" cy="365.5" r="1.8"/><circle cx="234.3" cy="374.7" r="1.8"/><circle cx="243.8" cy="377.0" r="1.8"/><circle cx="253.4" cy="380.4" r="1.8"/><circle cx="262.9" cy="383.7" r="1.8"/><circle cx="272.5" cy="387.4" r="1.8"/><circle cx="282.1" cy="389.3" r="1.8"/><circle cx="291.6" cy="392.3" r="1.8"/><circle cx="301.2" cy="394.3" r="1.8"/><circle cx="310.7" cy="396.4" r="1.8"/><circle cx="320.3" cy="396.9" r="1.8"/></g>
<path d="M33.6,313.7V328.1M31.3,313.7H35.9M31.3,328.1H35.9M43.2,311.4V325.8M40.9,311.4H45.5M40.9,325.8H45.5M52.7,301.6V317.1M50.4,301.6H55.0M50.4,317.1H55.0M62.3,283.6V300.8M60.0,283.6H64.6M60.0,300.8H64.6M71.8,280.9V298.0M69.5,280.9H74.1M69.5,298.0H74.1M81.4,282.6V299.8M79.1,282.6H83.7M79.1,299.8H83.7M90.9,284.5V299.9M88.6,284.5H93.2M88.6,299.9H93.2M100.5,280.4V297.5M98.2,280.4H102.8M98.2,297.5H102.8M110.0,283.3V302.2M107.7,283.3H112.3M107.7,302.2H112.3M119.6,296.7V317.3M117.3,296.7H121.9M117.3,317.3H121.9M129.2,300.8V323.1M126.9,300.8H131.5M126.9,323.1H131.5M138.7,310.2V333.6M136.4,310.2H141.0M136.4,333.6H141.0M148.3,322.2V343.5M146.0,322.2H150.6M146.0,343.5H150.6M157.8,329.6V349.5M155.5,329.6H160.1M155.5,349.5H160.1M167.4,334.9V352.8M165.1,334.9H169.7M165.1,352.8H169.7M176.9,347.6V363.1M174.6,347.6H179.2M174.6,363.1H179.2M186.5,355.4V369.8M184.2,355.4H188.8M184.2,369.8H188.8M196.1,361.7V376.1M193.8,361.7H198.4M193.8,376.1H198.4M205.6,373.5V385.6M203.3,373.5H207.9M203.3,385.6H207.9M215.2,374.4V384.7M212.9,374.4H217.5M212.9,384.7H217.5M224.7,382.5V391.1M222.4,382.5H227.0M222.4,391.1H227.0M234.3,383.7V392.3M232.0,383.7H236.6M232.0,392.3H236.6M243.8,383.2V391.7M241.5,383.2H246.1M241.5,391.7H246.1M253.4,387.1V394.0M251.1,387.1H255.7M251.1,394.0H255.7M262.9,388.3V394.5M260.6,388.3H265.2M260.6,394.5H265.2M272.5,390.5V395.7M270.2,390.5H274.8M270.2,395.7H274.8M282.1,391.9V396.0M279.8,391.9H284.4M279.8,396.0H284.4M291.6,395.0V397.1M289.3,395.0H293.9M289.3,397.1H293.9M301.2,396.0V397.4M298.9,396.0H303.5M298.9,397.4H303.5M310.7,396.4V397.4M308.4,396.4H313.0M308.4,397.4H313.0M320.3,396.5V397.6M318.0,396.5H322.6M318.0,397.6H322.6" fill="none" stroke="#3a3a3a" stroke-width="0.9" />
<path d="M33.6,320.9 L43.2,318.6 L52.7,309.4 L62.3,292.2 L71.8,289.5 L81.4,291.2 L90.9,292.2 L100.5,288.9 L110.0,292.7 L119.6,307.0 L129.2,311.9 L138.7,321.9 L148.3,332.9 L157.8,339.6 L167.4,343.9 L176.9,355.4 L186.5,362.6 L196.1,368.9 L205.6,379.6 L215.2,379.6 L224.7,386.8 L234.3,388.0 L243.8,387.4 L253.4,390.5 L262.9,391.4 L272.5,393.1 L282.1,394.0 L291.6,396.0 L301.2,396.7 L310.7,396.9 L320.3,397.1" fill="none" stroke="#1e1e1e" stroke-width="1.35" stroke-linejoin="round"/>
<g fill="#1e1e1e"><circle cx="33.6" cy="320.9" r="1.8"/><circle cx="43.2" cy="318.6" r="1.8"/><circle cx="52.7" cy="309.4" r="1.8"/><circle cx="62.3" cy="292.2" r="1.8"/><circle cx="71.8" cy="289.5" r="1.8"/><circle cx="81.4" cy="291.2" r="1.8"/><circle cx="90.9" cy="292.2" r="1.8"/><circle cx="100.5" cy="288.9" r="1.8"/><circle cx="110.0" cy="292.7" r="1.8"/><circle cx="119.6" cy="307.0" r="1.8"/><circle cx="129.2" cy="311.9" r="1.8"/><circle cx="138.7" cy="321.9" r="1.8"/><circle cx="148.3" cy="332.9" r="1.8"/><circle cx="157.8" cy="339.6" r="1.8"/><circle cx="167.4" cy="343.9" r="1.8"/><circle cx="176.9" cy="355.4" r="1.8"/><circle cx="186.5" cy="362.6" r="1.8"/><circle cx="196.1" cy="368.9" r="1.8"/><circle cx="205.6" cy="379.6" r="1.8"/><circle cx="215.2" cy="379.6" r="1.8"/><circle cx="224.7" cy="386.8" r="1.8"/><circle cx="234.3" cy="388.0" r="1.8"/><circle cx="243.8" cy="387.4" r="1.8"/><circle cx="253.4" cy="390.5" r="1.8"/><circle cx="262.9" cy="391.4" r="1.8"/><circle cx="272.5" cy="393.1" r="1.8"/><circle cx="282.1" cy="394.0" r="1.8"/><circle cx="291.6" cy="396.0" r="1.8"/><circle cx="301.2" cy="396.7" r="1.8"/><circle cx="310.7" cy="396.9" r="1.8"/><circle cx="320.3" cy="397.1" r="1.8"/></g>
<path d="M61.23,274.60 L61.73,275.41 L62.65,275.64 L62.04,276.36 L62.11,277.31 L61.23,276.95 L60.35,277.31 L60.42,276.36 L59.80,275.64 L60.73,275.41ZM63.91,274.60 L64.41,275.41 L65.33,275.64 L64.72,276.36 L64.79,277.31 L63.91,276.95 L63.03,277.31 L63.10,276.36 L62.48,275.64 L63.41,275.41Z" fill="#333"/>
<path d="M69.44,274.60 L69.94,275.41 L70.87,275.64 L70.25,276.36 L70.33,277.31 L69.44,276.95 L68.56,277.31 L68.64,276.36 L68.02,275.64 L68.94,275.41ZM72.12,274.60 L72.62,275.41 L73.55,275.64 L72.93,276.36 L73.01,277.31 L72.12,276.95 L71.24,277.31 L71.32,276.36 L70.70,275.64 L71.62,275.41ZM74.80,274.60 L75.30,275.41 L76.23,275.64 L75.61,276.36 L75.69,277.31 L74.80,276.95 L73.92,277.31 L74.00,276.36 L73.38,275.64 L74.30,275.41Z" fill="#333"/>
<path d="M80.34,273.20 L80.84,274.01 L81.77,274.24 L81.15,274.96 L81.22,275.91 L80.34,275.55 L79.46,275.91 L79.53,274.96 L78.91,274.24 L79.84,274.01ZM83.02,273.20 L83.52,274.01 L84.45,274.24 L83.83,274.96 L83.90,275.91 L83.02,275.55 L82.14,275.91 L82.21,274.96 L81.59,274.24 L82.52,274.01Z" fill="#f7941d"/>
<path d="M77.66,276.40 L78.16,277.21 L79.09,277.44 L78.47,278.16 L78.54,279.11 L77.66,278.75 L76.78,279.11 L76.85,278.16 L76.23,277.44 L77.16,277.21ZM80.34,276.40 L80.84,277.21 L81.77,277.44 L81.15,278.16 L81.22,279.11 L80.34,278.75 L79.46,279.11 L79.53,278.16 L78.91,277.44 L79.84,277.21ZM83.02,276.40 L83.52,277.21 L84.45,277.44 L83.83,278.16 L83.90,279.11 L83.02,278.75 L82.14,279.11 L82.21,278.16 L81.59,277.44 L82.52,277.21ZM85.70,276.40 L86.20,277.21 L87.13,277.44 L86.51,278.16 L86.58,279.11 L85.70,278.75 L84.82,279.11 L84.89,278.16 L84.27,277.44 L85.20,277.21Z" fill="#333"/>
<path d="M88.56,278.20 L89.06,279.01 L89.98,279.24 L89.36,279.96 L89.44,280.91 L88.56,280.55 L87.67,280.91 L87.75,279.96 L87.13,279.24 L88.06,279.01ZM91.24,278.20 L91.74,279.01 L92.66,279.24 L92.04,279.96 L92.12,280.91 L91.24,280.55 L90.35,280.91 L90.43,279.96 L89.81,279.24 L90.74,279.01ZM93.92,278.20 L94.42,279.01 L95.34,279.24 L94.72,279.96 L94.80,280.91 L93.92,280.55 L93.03,280.91 L93.11,279.96 L92.49,279.24 L93.42,279.01Z" fill="#f7941d"/>
<path d="M87.22,281.40 L87.72,282.21 L88.64,282.44 L88.02,283.16 L88.10,284.11 L87.22,283.75 L86.33,284.11 L86.41,283.16 L85.79,282.44 L86.72,282.21ZM89.90,281.40 L90.40,282.21 L91.32,282.44 L90.70,283.16 L90.78,284.11 L89.90,283.75 L89.01,284.11 L89.09,283.16 L88.47,282.44 L89.40,282.21ZM92.58,281.40 L93.08,282.21 L94.00,282.44 L93.38,283.16 L93.46,284.11 L92.58,283.75 L91.69,284.11 L91.77,283.16 L91.15,282.44 L92.08,282.21ZM95.26,281.40 L95.76,282.21 L96.68,282.44 L96.06,283.16 L96.14,284.11 L95.26,283.75 L94.37,284.11 L94.45,283.16 L93.83,282.44 L94.76,282.21Z" fill="#333"/>
<path d="M98.11,267.00 L98.61,267.81 L99.54,268.04 L98.92,268.76 L98.99,269.71 L98.11,269.35 L97.23,269.71 L97.30,268.76 L96.69,268.04 L97.61,267.81ZM100.79,267.00 L101.29,267.81 L102.22,268.04 L101.60,268.76 L101.67,269.71 L100.79,269.35 L99.91,269.71 L99.98,268.76 L99.37,268.04 L100.29,267.81ZM103.47,267.00 L103.97,267.81 L104.90,268.04 L104.28,268.76 L104.35,269.71 L103.47,269.35 L102.59,269.71 L102.66,268.76 L102.05,268.04 L102.97,267.81Z" fill="#f7941d"/>
<path d="M96.77,269.90 L97.27,270.71 L98.20,270.94 L97.58,271.66 L97.65,272.61 L96.77,272.25 L95.89,272.61 L95.96,271.66 L95.35,270.94 L96.27,270.71ZM99.45,269.90 L99.95,270.71 L100.88,270.94 L100.26,271.66 L100.33,272.61 L99.45,272.25 L98.57,272.61 L98.64,271.66 L98.03,270.94 L98.95,270.71ZM102.13,269.90 L102.63,270.71 L103.56,270.94 L102.94,271.66 L103.01,272.61 L102.13,272.25 L101.25,272.61 L101.32,271.66 L100.71,270.94 L101.63,270.71ZM104.81,269.90 L105.31,270.71 L106.24,270.94 L105.62,271.66 L105.69,272.61 L104.81,272.25 L103.93,272.61 L104.00,271.66 L103.39,270.94 L104.31,270.71Z" fill="#333"/>
<path d="M106.33,262.40 L106.83,263.21 L107.75,263.44 L107.14,264.16 L107.21,265.11 L106.33,264.75 L105.45,265.11 L105.52,264.16 L104.90,263.44 L105.83,263.21ZM109.01,262.40 L109.51,263.21 L110.43,263.44 L109.82,264.16 L109.89,265.11 L109.01,264.75 L108.13,265.11 L108.20,264.16 L107.58,263.44 L108.51,263.21ZM111.69,262.40 L112.19,263.21 L113.11,263.44 L112.50,264.16 L112.57,265.11 L111.69,264.75 L110.81,265.11 L110.88,264.16 L110.26,263.44 L111.19,263.21ZM114.37,262.40 L114.87,263.21 L115.79,263.44 L115.18,264.16 L115.25,265.11 L114.37,264.75 L113.49,265.11 L113.56,264.16 L112.94,263.44 L113.87,263.21Z" fill="#f7941d"/>
<path d="M106.33,265.80 L106.83,266.61 L107.75,266.84 L107.14,267.56 L107.21,268.51 L106.33,268.15 L105.45,268.51 L105.52,267.56 L104.90,266.84 L105.83,266.61ZM109.01,265.80 L109.51,266.61 L110.43,266.84 L109.82,267.56 L109.89,268.51 L109.01,268.15 L108.13,268.51 L108.20,267.56 L107.58,266.84 L108.51,266.61ZM111.69,265.80 L112.19,266.61 L113.11,266.84 L112.50,267.56 L112.57,268.51 L111.69,268.15 L110.81,268.51 L110.88,267.56 L110.26,266.84 L111.19,266.61ZM114.37,265.80 L114.87,266.61 L115.79,266.84 L115.18,267.56 L115.25,268.51 L114.37,268.15 L113.49,268.51 L113.56,267.56 L112.94,266.84 L113.87,266.61Z" fill="#333"/>
<path d="M115.88,279.90 L116.38,280.71 L117.31,280.94 L116.69,281.66 L116.77,282.61 L115.88,282.25 L115.00,282.61 L115.08,281.66 L114.46,280.94 L115.38,280.71ZM118.56,279.90 L119.06,280.71 L119.99,280.94 L119.37,281.66 L119.45,282.61 L118.56,282.25 L117.68,282.61 L117.76,281.66 L117.14,280.94 L118.06,280.71ZM121.24,279.90 L121.74,280.71 L122.67,280.94 L122.05,281.66 L122.13,282.61 L121.24,282.25 L120.36,282.61 L120.44,281.66 L119.82,280.94 L120.74,280.71ZM123.92,279.90 L124.42,280.71 L125.35,280.94 L124.73,281.66 L124.81,282.61 L123.92,282.25 L123.04,282.61 L123.12,281.66 L122.50,280.94 L123.42,280.71Z" fill="#f7941d"/>
<path d="M115.88,284.10 L116.38,284.91 L117.31,285.14 L116.69,285.86 L116.77,286.81 L115.88,286.45 L115.00,286.81 L115.08,285.86 L114.46,285.14 L115.38,284.91ZM118.56,284.10 L119.06,284.91 L119.99,285.14 L119.37,285.86 L119.45,286.81 L118.56,286.45 L117.68,286.81 L117.76,285.86 L117.14,285.14 L118.06,284.91ZM121.24,284.10 L121.74,284.91 L122.67,285.14 L122.05,285.86 L122.13,286.81 L121.24,286.45 L120.36,286.81 L120.44,285.86 L119.82,285.14 L120.74,284.91ZM123.92,284.10 L124.42,284.91 L125.35,285.14 L124.73,285.86 L124.81,286.81 L123.92,286.45 L123.04,286.81 L123.12,285.86 L122.50,285.14 L123.42,284.91Z" fill="#333"/>
<path d="M125.44,288.90 L125.94,289.71 L126.87,289.94 L126.25,290.66 L126.32,291.61 L125.44,291.25 L124.56,291.61 L124.63,290.66 L124.01,289.94 L124.94,289.71ZM128.12,288.90 L128.62,289.71 L129.55,289.94 L128.93,290.66 L129.00,291.61 L128.12,291.25 L127.24,291.61 L127.31,290.66 L126.69,289.94 L127.62,289.71ZM130.80,288.90 L131.30,289.71 L132.23,289.94 L131.61,290.66 L131.68,291.61 L130.80,291.25 L129.92,291.61 L129.99,290.66 L129.37,289.94 L130.30,289.71ZM133.48,288.90 L133.98,289.71 L134.91,289.94 L134.29,290.66 L134.36,291.61 L133.48,291.25 L132.60,291.61 L132.67,290.66 L132.05,289.94 L132.98,289.71Z" fill="#f7941d"/>
<path d="M125.44,292.90 L125.94,293.71 L126.87,293.94 L126.25,294.66 L126.32,295.61 L125.44,295.25 L124.56,295.61 L124.63,294.66 L124.01,293.94 L124.94,293.71ZM128.12,292.90 L128.62,293.71 L129.55,293.94 L128.93,294.66 L129.00,295.61 L128.12,295.25 L127.24,295.61 L127.31,294.66 L126.69,293.94 L127.62,293.71ZM130.80,292.90 L131.30,293.71 L132.23,293.94 L131.61,294.66 L131.68,295.61 L130.80,295.25 L129.92,295.61 L129.99,294.66 L129.37,293.94 L130.30,293.71ZM133.48,292.90 L133.98,293.71 L134.91,293.94 L134.29,294.66 L134.36,295.61 L133.48,295.25 L132.60,295.61 L132.67,294.66 L132.05,293.94 L132.98,293.71Z" fill="#333"/>
<path d="M135.00,282.60 L135.50,283.41 L136.42,283.64 L135.80,284.36 L135.88,285.31 L135.00,284.95 L134.11,285.31 L134.19,284.36 L133.57,283.64 L134.50,283.41ZM137.68,282.60 L138.18,283.41 L139.10,283.64 L138.48,284.36 L138.56,285.31 L137.68,284.95 L136.79,285.31 L136.87,284.36 L136.25,283.64 L137.18,283.41ZM140.36,282.60 L140.86,283.41 L141.78,283.64 L141.16,284.36 L141.24,285.31 L140.36,284.95 L139.47,285.31 L139.55,284.36 L138.93,283.64 L139.86,283.41ZM143.04,282.60 L143.54,283.41 L144.46,283.64 L143.84,284.36 L143.92,285.31 L143.04,284.95 L142.15,285.31 L142.23,284.36 L141.61,283.64 L142.54,283.41Z" fill="#f7941d"/>
<path d="M135.00,286.20 L135.50,287.01 L136.42,287.24 L135.80,287.96 L135.88,288.91 L135.00,288.55 L134.11,288.91 L134.19,287.96 L133.57,287.24 L134.50,287.01ZM137.68,286.20 L138.18,287.01 L139.10,287.24 L138.48,287.96 L138.56,288.91 L137.68,288.55 L136.79,288.91 L136.87,287.96 L136.25,287.24 L137.18,287.01ZM140.36,286.20 L140.86,287.01 L141.78,287.24 L141.16,287.96 L141.24,288.91 L140.36,288.55 L139.47,288.91 L139.55,287.96 L138.93,287.24 L139.86,287.01ZM143.04,286.20 L143.54,287.01 L144.46,287.24 L143.84,287.96 L143.92,288.91 L143.04,288.55 L142.15,288.91 L142.23,287.96 L141.61,287.24 L142.54,287.01Z" fill="#333"/>
<path d="M144.55,290.80 L145.05,291.61 L145.98,291.84 L145.36,292.56 L145.43,293.51 L144.55,293.15 L143.67,293.51 L143.74,292.56 L143.13,291.84 L144.05,291.61ZM147.23,290.80 L147.73,291.61 L148.66,291.84 L148.04,292.56 L148.11,293.51 L147.23,293.15 L146.35,293.51 L146.42,292.56 L145.81,291.84 L146.73,291.61ZM149.91,290.80 L150.41,291.61 L151.34,291.84 L150.72,292.56 L150.79,293.51 L149.91,293.15 L149.03,293.51 L149.10,292.56 L148.49,291.84 L149.41,291.61ZM152.59,290.80 L153.09,291.61 L154.02,291.84 L153.40,292.56 L153.47,293.51 L152.59,293.15 L151.71,293.51 L151.78,292.56 L151.17,291.84 L152.09,291.61Z" fill="#f7941d"/>
<path d="M144.55,294.90 L145.05,295.71 L145.98,295.94 L145.36,296.66 L145.43,297.61 L144.55,297.25 L143.67,297.61 L143.74,296.66 L143.13,295.94 L144.05,295.71ZM147.23,294.90 L147.73,295.71 L148.66,295.94 L148.04,296.66 L148.11,297.61 L147.23,297.25 L146.35,297.61 L146.42,296.66 L145.81,295.94 L146.73,295.71ZM149.91,294.90 L150.41,295.71 L151.34,295.94 L150.72,296.66 L150.79,297.61 L149.91,297.25 L149.03,297.61 L149.10,296.66 L148.49,295.94 L149.41,295.71ZM152.59,294.90 L153.09,295.71 L154.02,295.94 L153.40,296.66 L153.47,297.61 L152.59,297.25 L151.71,297.61 L151.78,296.66 L151.17,295.94 L152.09,295.71Z" fill="#333"/>
<path d="M154.11,301.60 L154.61,302.41 L155.53,302.64 L154.92,303.36 L154.99,304.31 L154.11,303.95 L153.23,304.31 L153.30,303.36 L152.68,302.64 L153.61,302.41ZM156.79,301.60 L157.29,302.41 L158.21,302.64 L157.60,303.36 L157.67,304.31 L156.79,303.95 L155.91,304.31 L155.98,303.36 L155.36,302.64 L156.29,302.41ZM159.47,301.60 L159.97,302.41 L160.89,302.64 L160.28,303.36 L160.35,304.31 L159.47,303.95 L158.59,304.31 L158.66,303.36 L158.04,302.64 L158.97,302.41ZM162.15,301.60 L162.65,302.41 L163.57,302.64 L162.96,303.36 L163.03,304.31 L162.15,303.95 L161.27,304.31 L161.34,303.36 L160.72,302.64 L161.65,302.41Z" fill="#f7941d"/>
<path d="M154.11,305.00 L154.61,305.81 L155.53,306.04 L154.92,306.76 L154.99,307.71 L154.11,307.35 L153.23,307.71 L153.30,306.76 L152.68,306.04 L153.61,305.81ZM156.79,305.00 L157.29,305.81 L158.21,306.04 L157.60,306.76 L157.67,307.71 L156.79,307.35 L155.91,307.71 L155.98,306.76 L155.36,306.04 L156.29,305.81ZM159.47,305.00 L159.97,305.81 L160.89,306.04 L160.28,306.76 L160.35,307.71 L159.47,307.35 L158.59,307.71 L158.66,306.76 L158.04,306.04 L158.97,305.81ZM162.15,305.00 L162.65,305.81 L163.57,306.04 L162.96,306.76 L163.03,307.71 L162.15,307.35 L161.27,307.71 L161.34,306.76 L160.72,306.04 L161.65,305.81Z" fill="#333"/>
<path d="M163.66,309.00 L164.16,309.81 L165.09,310.04 L164.47,310.76 L164.55,311.71 L163.66,311.35 L162.78,311.71 L162.86,310.76 L162.24,310.04 L163.16,309.81ZM166.34,309.00 L166.84,309.81 L167.77,310.04 L167.15,310.76 L167.23,311.71 L166.34,311.35 L165.46,311.71 L165.54,310.76 L164.92,310.04 L165.84,309.81ZM169.02,309.00 L169.52,309.81 L170.45,310.04 L169.83,310.76 L169.91,311.71 L169.02,311.35 L168.14,311.71 L168.22,310.76 L167.60,310.04 L168.52,309.81ZM171.70,309.00 L172.20,309.81 L173.13,310.04 L172.51,310.76 L172.59,311.71 L171.70,311.35 L170.82,311.71 L170.90,310.76 L170.28,310.04 L171.20,309.81Z" fill="#f7941d"/>
<path d="M165.00,313.20 L165.50,314.01 L166.43,314.24 L165.81,314.96 L165.89,315.91 L165.00,315.55 L164.12,315.91 L164.20,314.96 L163.58,314.24 L164.50,314.01ZM167.68,313.20 L168.18,314.01 L169.11,314.24 L168.49,314.96 L168.57,315.91 L167.68,315.55 L166.80,315.91 L166.88,314.96 L166.26,314.24 L167.18,314.01ZM170.36,313.20 L170.86,314.01 L171.79,314.24 L171.17,314.96 L171.25,315.91 L170.36,315.55 L169.48,315.91 L169.56,314.96 L168.94,314.24 L169.86,314.01Z" fill="#333"/>
<path d="M173.22,306.30 L173.72,307.11 L174.65,307.34 L174.03,308.06 L174.10,309.01 L173.22,308.65 L172.34,309.01 L172.41,308.06 L171.79,307.34 L172.72,307.11ZM175.90,306.30 L176.40,307.11 L177.33,307.34 L176.71,308.06 L176.78,309.01 L175.90,308.65 L175.02,309.01 L175.09,308.06 L174.47,307.34 L175.40,307.11ZM178.58,306.30 L179.08,307.11 L180.01,307.34 L179.39,308.06 L179.46,309.01 L178.58,308.65 L177.70,309.01 L177.77,308.06 L177.15,307.34 L178.08,307.11ZM181.26,306.30 L181.76,307.11 L182.69,307.34 L182.07,308.06 L182.14,309.01 L181.26,308.65 L180.38,309.01 L180.45,308.06 L179.83,307.34 L180.76,307.11Z" fill="#f7941d"/>
<path d="M175.90,310.10 L176.40,310.91 L177.33,311.14 L176.71,311.86 L176.78,312.81 L175.90,312.45 L175.02,312.81 L175.09,311.86 L174.47,311.14 L175.40,310.91ZM178.58,310.10 L179.08,310.91 L180.01,311.14 L179.39,311.86 L179.46,312.81 L178.58,312.45 L177.70,312.81 L177.77,311.86 L177.15,311.14 L178.08,310.91Z" fill="#333"/>
<path d="M182.78,323.20 L183.28,324.01 L184.20,324.24 L183.58,324.96 L183.66,325.91 L182.78,325.55 L181.89,325.91 L181.97,324.96 L181.35,324.24 L182.28,324.01ZM185.46,323.20 L185.96,324.01 L186.88,324.24 L186.26,324.96 L186.34,325.91 L185.46,325.55 L184.57,325.91 L184.65,324.96 L184.03,324.24 L184.96,324.01ZM188.14,323.20 L188.64,324.01 L189.56,324.24 L188.94,324.96 L189.02,325.91 L188.14,325.55 L187.25,325.91 L187.33,324.96 L186.71,324.24 L187.64,324.01ZM190.82,323.20 L191.32,324.01 L192.24,324.24 L191.62,324.96 L191.70,325.91 L190.82,325.55 L189.93,325.91 L190.01,324.96 L189.39,324.24 L190.32,324.01Z" fill="#f7941d"/>
<path d="M192.33,335.40 L192.83,336.21 L193.76,336.44 L193.14,337.16 L193.21,338.11 L192.33,337.75 L191.45,338.11 L191.52,337.16 L190.91,336.44 L191.83,336.21ZM195.01,335.40 L195.51,336.21 L196.44,336.44 L195.82,337.16 L195.89,338.11 L195.01,337.75 L194.13,338.11 L194.20,337.16 L193.59,336.44 L194.51,336.21ZM197.69,335.40 L198.19,336.21 L199.12,336.44 L198.50,337.16 L198.57,338.11 L197.69,337.75 L196.81,338.11 L196.88,337.16 L196.27,336.44 L197.19,336.21ZM200.37,335.40 L200.87,336.21 L201.80,336.44 L201.18,337.16 L201.25,338.11 L200.37,337.75 L199.49,338.11 L199.56,337.16 L198.95,336.44 L199.87,336.21Z" fill="#f7941d"/>
<path d="M204.57,347.00 L205.07,347.81 L205.99,348.04 L205.38,348.76 L205.45,349.71 L204.57,349.35 L203.69,349.71 L203.76,348.76 L203.14,348.04 L204.07,347.81ZM207.25,347.00 L207.75,347.81 L208.67,348.04 L208.06,348.76 L208.13,349.71 L207.25,349.35 L206.37,349.71 L206.44,348.76 L205.82,348.04 L206.75,347.81Z" fill="#f7941d"/>
<path d="M211.44,337.50 L211.94,338.31 L212.87,338.54 L212.25,339.26 L212.33,340.21 L211.44,339.85 L210.56,340.21 L210.64,339.26 L210.02,338.54 L210.94,338.31ZM214.12,337.50 L214.62,338.31 L215.55,338.54 L214.93,339.26 L215.01,340.21 L214.12,339.85 L213.24,340.21 L213.32,339.26 L212.70,338.54 L213.62,338.31ZM216.80,337.50 L217.30,338.31 L218.23,338.54 L217.61,339.26 L217.69,340.21 L216.80,339.85 L215.92,340.21 L216.00,339.26 L215.38,338.54 L216.30,338.31ZM219.48,337.50 L219.98,338.31 L220.91,338.54 L220.29,339.26 L220.37,340.21 L219.48,339.85 L218.60,340.21 L218.68,339.26 L218.06,338.54 L218.98,338.31Z" fill="#f7941d"/>
<path d="M223.68,354.10 L224.18,354.91 L225.11,355.14 L224.49,355.86 L224.56,356.81 L223.68,356.45 L222.80,356.81 L222.87,355.86 L222.25,355.14 L223.18,354.91ZM226.36,354.10 L226.86,354.91 L227.79,355.14 L227.17,355.86 L227.24,356.81 L226.36,356.45 L225.48,356.81 L225.55,355.86 L224.93,355.14 L225.86,354.91Z" fill="#f7941d"/>
<line x1="209.8" y1="280.1" x2="218.4" y2="280.1" stroke="#1e1e1e" stroke-width="1.4" />
<g fill="#1e1e1e"><circle cx="214.1" cy="280.1" r="1.5"/></g>
<text x="222.6" y="283.0" font-size="9.1" textLength="65.6" lengthAdjust="spacingAndGlyphs" style="fill:#3e3e3e" >Control + Saline</text>
<line x1="209.8" y1="292.1" x2="218.4" y2="292.1" stroke="#bdbfc1" stroke-width="1.4" />
<g fill="#bdbfc1"><circle cx="214.1" cy="292.1" r="1.5"/></g>
<text x="222.6" y="295.0" font-size="9.1" textLength="65.1" lengthAdjust="spacingAndGlyphs" style="fill:#3e3e3e" >Control + NADH</text>
<line x1="209.8" y1="304.6" x2="218.4" y2="304.6" stroke="#f7941d" stroke-width="1.4" />
<g fill="#f7941d"><circle cx="214.1" cy="304.6" r="1.5"/></g>
<text x="222.6" y="307.5" font-size="9.1" textLength="67.1" lengthAdjust="spacingAndGlyphs" style="fill:#3e3e3e" >FTL1 OE + Saline</text>
<line x1="209.8" y1="316.3" x2="218.4" y2="316.3" stroke="#f1592a" stroke-width="1.4" />
<g fill="#f1592a"><circle cx="214.1" cy="316.3" r="1.5"/></g>
<text x="222.6" y="319.2" font-size="9.1" textLength="66.4" lengthAdjust="spacingAndGlyphs" style="fill:#3e3e3e" >FTL1 OE + NADH</text>
<path d="M298,279.8H304.5V305H298" fill="none" stroke="#666" stroke-width="0.9" />
<path d="M308.2,304.5H315.3V316.3H308.2" fill="none" stroke="#666" stroke-width="0.9" />
<path d="M310.28,288.95 L310.87,290.38 L312.41,290.50 L311.24,291.51 L311.60,293.02 L310.28,292.21 L308.95,293.02 L309.31,291.51 L308.14,290.50 L309.68,290.38ZM314.62,288.95 L315.22,290.38 L316.76,290.50 L315.59,291.51 L315.95,293.02 L314.62,292.21 L313.30,293.02 L313.66,291.51 L312.49,290.50 L314.03,290.38ZM318.98,288.95 L319.57,290.38 L321.11,290.50 L319.94,291.51 L320.30,293.02 L318.98,292.21 L317.65,293.02 L318.01,291.51 L316.84,290.50 L318.38,290.38ZM323.32,288.95 L323.92,290.38 L325.46,290.50 L324.29,291.51 L324.65,293.02 L323.32,292.21 L322.00,293.02 L322.36,291.51 L321.19,290.50 L322.73,290.38Z" fill="#2a2a2a"/>
<path d="M320.35,308.25 L320.95,309.68 L322.49,309.80 L321.31,310.81 L321.67,312.32 L320.35,311.51 L319.03,312.32 L319.39,310.81 L318.21,309.80 L319.75,309.68ZM324.65,308.25 L325.25,309.68 L326.79,309.80 L325.61,310.81 L325.97,312.32 L324.65,311.51 L323.33,312.32 L323.69,310.81 L322.51,309.80 L324.05,309.68ZM328.95,308.25 L329.55,309.68 L331.09,309.80 L329.91,310.81 L330.27,312.32 L328.95,311.51 L327.63,312.32 L327.99,310.81 L326.81,309.80 L328.35,309.68ZM333.25,308.25 L333.85,309.68 L335.39,309.80 L334.21,310.81 L334.57,312.32 L333.25,311.51 L331.93,312.32 L332.29,310.81 L331.11,309.80 L332.65,309.68Z" fill="#f7941d"/>
<text x="374.6" y="268.6" font-size="8.5" textLength="98.4" lengthAdjust="spacingAndGlyphs" style="fill:#3e3e3e" >Bilateral STX injections:</text>
<text x="372.1" y="293" font-size="8.8" textLength="43.1" lengthAdjust="spacingAndGlyphs" style="fill:#3e3e3e" >Syn–IRES–</text>
<text x="382.5" y="302.9" font-size="8.8" textLength="21.1" lengthAdjust="spacingAndGlyphs" style="fill:#3e3e3e" >eGFP</text>
<text x="420.8" y="302.9" font-size="8.8" textLength="8.3" lengthAdjust="spacingAndGlyphs" style="fill:#3e3e3e" >vs</text>
<text x="439.6" y="293" font-size="8.8" textLength="39.2" lengthAdjust="spacingAndGlyphs" style="fill:#3e3e3e" >Syn–Ftl1–</text>
<text x="436.5" y="302.9" font-size="8.8" textLength="44.8" lengthAdjust="spacingAndGlyphs" style="fill:#3e3e3e" >IRES–eGFP</text>
<text x="415.2" y="321.6" font-size="8.8" textLength="25.5" lengthAdjust="spacingAndGlyphs" style="fill:#3e3e3e" >Young</text>
<text x="483.2" y="334" font-size="8.8" text-anchor="middle" textLength="62.4" lengthAdjust="spacingAndGlyphs" style="fill:#3e3e3e" >NADH or saline</text>
<text x="483" y="344.1" font-size="8.8" text-anchor="middle" textLength="51" lengthAdjust="spacingAndGlyphs" style="fill:#3e3e3e" >IP injections</text>
<text x="457.5" y="354.3" font-size="8.8" style="fill:#3e3e3e" textLength="49" lengthAdjust="spacingAndGlyphs">100 mg kg<tspan font-size="5" dy="-3.4">−1</tspan></text>
<text x="481.8" y="364.4" font-size="8.8" text-anchor="middle" textLength="27.2" lengthAdjust="spacingAndGlyphs" style="fill:#3e3e3e" >200 µl</text>
<text x="489.8" y="380.7" font-size="8.8" textLength="10.4" lengthAdjust="spacingAndGlyphs" style="fill:#3e3e3e" >X9</text>
<g transform="translate(472.4,369.7) scale(1.0)" stroke="#111" stroke-linecap="round" fill="none"><path d="M0.6,0.6L2.4,2.4" stroke-width="2.6"/><path d="M2.2,2.2L8.2,7.6" stroke-width="2.7"/><path d="M8,7.4L12.8,11.8" stroke-width="0.9"/><path d="M-0.4,1.8L1.8,-0.4" stroke-width="0.9"/></g>
<path d="M474.4,390.8V388H499V390.8M486.6,388V385.3" fill="none" stroke="#333" stroke-width="0.8" />
<line x1="429.2" y1="397.5" x2="523" y2="397.5" stroke="#222" stroke-width="1" />
<line x1="529.5" y1="397.5" x2="665" y2="397.5" stroke="#222" stroke-width="1" />
<path d="M664,394.9L670.6,397.5L664,400.1Z" fill="#222" stroke="none" stroke-width="1" />
<line x1="429.2" y1="391.8" x2="429.2" y2="403.2" stroke="#222" stroke-width="1" />
<line x1="476.5" y1="391.8" x2="476.5" y2="403.2" stroke="#222" stroke-width="0.9" />
<line x1="478.82" y1="391.8" x2="478.82" y2="403.2" stroke="#222" stroke-width="0.9" />
<line x1="481.14" y1="391.8" x2="481.14" y2="403.2" stroke="#222" stroke-width="0.9" />
<line x1="483.46" y1="391.8" x2="483.46" y2="403.2" stroke="#222" stroke-width="0.9" />
<line x1="485.78" y1="391.8" x2="485.78" y2="403.2" stroke="#222" stroke-width="0.9" />
<line x1="488.1" y1="391.8" x2="488.1" y2="403.2" stroke="#222" stroke-width="0.9" />
<line x1="490.42" y1="391.8" x2="490.42" y2="403.2" stroke="#222" stroke-width="0.9" />
<line x1="492.74" y1="391.8" x2="492.74" y2="403.2" stroke="#222" stroke-width="0.9" />
<line x1="495.06" y1="391.8" x2="495.06" y2="403.2" stroke="#222" stroke-width="0.9" />
<line x1="497.38" y1="391.8" x2="497.38" y2="403.2" stroke="#222" stroke-width="0.9" />
<path d="M522.2,401.8L526,393.2M526.2,401.8L530,393.2" fill="none" stroke="#222" stroke-width="1.25" />
<line x1="562.8" y1="391.6" x2="562.8" y2="402.4" stroke="#222" stroke-width="1" />
<line x1="639.2" y1="391.6" x2="639.2" y2="402.4" stroke="#222" stroke-width="1" />
<text x="429.7" y="413.6" font-size="9.4" text-anchor="middle" textLength="5.4" lengthAdjust="spacingAndGlyphs" style="fill:#3e3e3e" >0</text>
<text x="487" y="413.6" font-size="9.4" text-anchor="middle" textLength="23.6" lengthAdjust="spacingAndGlyphs" style="fill:#3e3e3e" >42–51</text>
<text x="562.8" y="414.2" font-size="9.4" text-anchor="middle" textLength="10" lengthAdjust="spacingAndGlyphs" style="fill:#3e3e3e" >54</text>
<text x="638.6" y="414.2" font-size="9.4" text-anchor="middle" textLength="9.8" lengthAdjust="spacingAndGlyphs" style="fill:#3e3e3e" >55</text>
<text x="655.9" y="415.6" font-size="11.4" textLength="24.5" lengthAdjust="spacingAndGlyphs" >Time</text>
<text x="661.2" y="427.8" font-size="11.4" textLength="14" lengthAdjust="spacingAndGlyphs" >(d)</text>
<path d="M426.3,328.8 C426.7,328.9 427.8,329.5 428.6,329.6 C429.4,329.7 430.8,329.2 431.1,329.6 C431.4,330.0 430.2,331.2 430.3,332.1 C430.4,333.0 431.3,334.0 432.0,335.0 C432.7,336.0 433.8,337.1 434.4,338.3 C435.0,339.5 435.6,340.7 435.7,342.3 C435.8,343.9 434.9,346.1 435.2,348.0 C435.5,349.9 436.9,351.9 437.3,353.7 C437.7,355.5 437.8,357.1 437.6,358.6 C437.4,360.1 436.9,361.5 436.0,362.7 C435.1,363.9 433.4,365.0 432.0,365.6 C430.6,366.2 429.3,366.5 427.9,366.3 C426.5,366.1 424.9,365.6 423.8,364.6 C422.7,363.6 421.8,361.8 421.4,360.2 C420.9,358.6 420.9,357.1 421.1,355.3 C421.3,353.5 422.5,351.5 422.7,349.6 C422.9,347.7 422.1,345.8 422.2,344.0 C422.2,342.2 422.7,340.5 423.0,339.1 C423.3,337.7 424.1,336.8 423.8,335.8 C423.5,334.8 421.3,334.0 421.2,333.3 C421.1,332.6 422.8,332.4 423.3,331.8 C423.8,331.2 423.8,330.3 424.3,329.8 C424.8,329.3 426.0,329.0 426.3,328.8Z" fill="#171313" stroke="#171313" stroke-width="0.5" stroke-linejoin="round"/>
<circle cx="424.4" cy="341.1" r="0.6" fill="#a0622a"/><circle cx="433.5" cy="339.2" r="0.6" fill="#a0622a"/>
<path d="M428.2,365.9 C427.4,369 427.4,373 427.8,376.5 C428.3,380.5 429.4,384.3 430.8,387.3" fill="none" stroke="#4a3d3c" stroke-width="1.25" stroke-linecap="round"/>
<path d="M428.2,365.9 C427.8,367 427.7,368 427.6,369" fill="none" stroke="#9a5a3a" stroke-width="1.2" />
<g transform="translate(525.3,289.8) scale(1.0)" stroke="#111" stroke-linecap="round" fill="none"><path d="M0.6,0.6L2.4,2.4" stroke-width="2.6"/><path d="M2.2,2.2L8.2,7.6" stroke-width="2.7"/><path d="M8,7.4L12.8,11.8" stroke-width="0.9"/><path d="M-0.4,1.8L1.8,-0.4" stroke-width="0.9"/></g>
<g transform="translate(605.2,289.8) scale(1.0)" stroke="#111" stroke-linecap="round" fill="none"><path d="M0.6,0.6L2.4,2.4" stroke-width="2.6"/><path d="M2.2,2.2L8.2,7.6" stroke-width="2.7"/><path d="M8,7.4L12.8,11.8" stroke-width="0.9"/><path d="M-0.4,1.8L1.8,-0.4" stroke-width="0.9"/></g>
<text x="540.2" y="299.6" font-size="9.2" textLength="57" lengthAdjust="spacingAndGlyphs" style="fill:#3e3e3e" >+2-h recovery</text>
<text x="618.1" y="300.2" font-size="9.2" textLength="56.4" lengthAdjust="spacingAndGlyphs" style="fill:#3e3e3e" >+2-h recovery</text>
<text x="568.3" y="315.9" font-size="8.6" text-anchor="middle" style="fill:#3e3e3e" >+</text>
<text x="645.4" y="317.3" font-size="8.6" text-anchor="middle" style="fill:#3e3e3e" >+</text>
<text x="558.5" y="332.5" font-size="8.8" textLength="18.6" lengthAdjust="spacingAndGlyphs" style="fill:#3e3e3e" >NOR</text>
<text x="631.4" y="332.5" font-size="8.8" textLength="29.4" lengthAdjust="spacingAndGlyphs" style="fill:#3e3e3e" >Y maze</text>
<path d="M538.9,355.8H586.5V384.5H538.9Z" fill="none" stroke="#2a2a2a" stroke-width="1.2" />
<path d="M556.3,341.8H604.4V371.1" fill="none" stroke="#2a2a2a" stroke-width="1.2" />
<path d="M556.3,371.1H604.4" fill="none" stroke="#2a2a2a" stroke-width="0.9" />
<line x1="556.3" y1="341.8" x2="556.3" y2="371.1" stroke="#777" stroke-width="0.6" />
<path d="M538.9,355.8L556.3,341.8M586.5,355.8L604.4,341.8M586.5,384.5L604.4,371.1M538.9,384.5L556.3,371.1" fill="none" stroke="#2a2a2a" stroke-width="1.2" />
<rect x="548.70" y="377.20" width="5.30" height="6.00" fill="#a64ca6" />
<path d="M580.7,376.3 L581.8,378.8 L584.5,379.1 L582.4,380.9 L583.1,383.5 L580.7,382.1 L578.3,383.5 L579.0,380.9 L576.9,379.1 L579.6,378.8Z" fill="#3bb54a" stroke="none" stroke-width="1" />
<path d="M559.4,380.4 C558.6,376 561.6,372.4 565.6,371.6 C568,368.6 572.6,368.6 575,371.4 C576.6,373 576.8,375.6 575.6,377.6 C573.6,380.4 569.4,380.4 566.6,381.4 C564.2,382.6 560.6,382.8 559.4,380.4Z" fill="#141111"/>
<path d="M575.6,373.6 C578.6,370.6 580.2,365 581.9,359.6" fill="none" stroke="#141111" stroke-width="1.4" stroke-linecap="round"/>
<circle cx="563.6" cy="375.6" r="1.1" fill="none" stroke="#b98a4a" stroke-width="0.5"/>
<path d="M621,345.6L638.8,356.1L656.7,345.6L661.6,351.2L642.4,363.9V383.7H635.6V363.9L616.9,351.2Z" fill="none" stroke="#2a2a2a" stroke-width="1.25" stroke-linejoin="miter"/>
<text x="811.7" y="256.8" font-size="11" textLength="23.6" lengthAdjust="spacingAndGlyphs" >NOR</text>
<text transform="translate(730.0,344.6) rotate(-90)" font-size="9.9" text-anchor="middle" textLength="103" lengthAdjust="spacingAndGlyphs" style="fill:#3e3e3e" >Discrimination index</text>
<line x1="765.6" y1="292.1" x2="765.6" y2="397.8" stroke="#5c5c5c" stroke-width="1" />
<line x1="761.3000000000001" y1="292.6" x2="765.6" y2="292.6" stroke="#5c5c5c" stroke-width="1" />
<text x="758" y="295.90000000000003" font-size="9.5" text-anchor="end" textLength="11.5" lengthAdjust="spacingAndGlyphs" style="fill:#3e3e3e" >1.0</text>
<line x1="761.3000000000001" y1="318.8" x2="765.6" y2="318.8" stroke="#5c5c5c" stroke-width="1" />
<text x="758" y="322.1" font-size="9.5" text-anchor="end" textLength="12" lengthAdjust="spacingAndGlyphs" style="fill:#3e3e3e" >0.5</text>
<line x1="761.3000000000001" y1="345" x2="765.6" y2="345" stroke="#5c5c5c" stroke-width="1" />
<text x="758" y="348.3" font-size="9.5" text-anchor="end" textLength="5.2" lengthAdjust="spacingAndGlyphs" style="fill:#3e3e3e" >0</text>
<line x1="761.3000000000001" y1="371.1" x2="765.6" y2="371.1" stroke="#5c5c5c" stroke-width="1" />
<text x="758" y="374.40000000000003" font-size="9.5" text-anchor="end" textLength="17" lengthAdjust="spacingAndGlyphs" style="fill:#3e3e3e" >−0.5</text>
<line x1="761.3000000000001" y1="397.3" x2="765.6" y2="397.3" stroke="#5c5c5c" stroke-width="1" />
<text x="758" y="400.6" font-size="9.5" text-anchor="end" textLength="16.5" lengthAdjust="spacingAndGlyphs" style="fill:#3e3e3e" >−1.0</text>
<line x1="765.1" y1="397.3" x2="881.2" y2="397.3" stroke="#5c5c5c" stroke-width="1" />
<rect x="774.80" y="325.60" width="14.80" height="19.40" fill="#939598" stroke="#3a3a3a" stroke-width="0.75" />
<rect x="802.60" y="345.00" width="14.90" height="7.20" fill="#f7941d" stroke="#3a3a3a" stroke-width="0.75" />
<rect x="830.30" y="333.30" width="15.10" height="11.70" fill="url(#dash)" stroke="#3a3a3a" stroke-width="0.75" />
<rect x="858.20" y="332.80" width="15.00" height="12.20" fill="url(#hatch)" stroke="#3a3a3a" stroke-width="0.75" />
<line x1="765.6" y1="345" x2="881.2" y2="345" stroke="#2c2c2c" stroke-width="1.2" />
<path d="M782.2,320.4V330.8M778.4000000000001,320.4H786.0M778.4000000000001,330.8H786.0" fill="none" stroke="#222" stroke-width="0.8" />
<path d="M810,348.6V355.9M806.2,348.6H813.8M806.2,355.9H813.8" fill="none" stroke="#222" stroke-width="0.8" />
<path d="M837.8,330.2V336.4M834.0,330.2H841.5999999999999M834.0,336.4H841.5999999999999" fill="none" stroke="#222" stroke-width="0.8" />
<path d="M865.7,329.8V335.8M861.9000000000001,329.8H869.5M861.9000000000001,335.8H869.5" fill="none" stroke="#222" stroke-width="0.8" />
<g fill="#141414"><circle cx="778.8" cy="292.4" r="2.15"/><circle cx="785.2" cy="292.4" r="2.15"/><circle cx="776.3" cy="314.9" r="2.15"/><circle cx="788.5" cy="314.9" r="2.15"/><circle cx="782.3" cy="317.5" r="2.15"/><circle cx="782.7" cy="323.1" r="2.15"/><circle cx="776.2" cy="335.3" r="2.15"/><circle cx="782.3" cy="338.6" r="2.15"/><circle cx="782.5" cy="345.0" r="2.15"/><circle cx="776.0" cy="350.1" r="2.15"/><circle cx="788.4" cy="349.1" r="2.15"/></g>
<g fill="#141414"><circle cx="803.7" cy="338.0" r="2.15"/><circle cx="808.6" cy="340.5" r="2.15"/><circle cx="816.0" cy="342.8" r="2.15"/><circle cx="803.8" cy="345.8" r="2.15"/><circle cx="810.8" cy="345.8" r="2.15"/><circle cx="803.8" cy="350.4" r="2.15"/><circle cx="814.1" cy="350.9" r="2.15"/><circle cx="809.8" cy="356.0" r="2.15"/><circle cx="809.8" cy="362.5" r="2.15"/><circle cx="809.8" cy="369.4" r="2.15"/><circle cx="809.8" cy="381.3" r="2.15"/></g>
<g fill="#141414"><circle cx="835.5" cy="312.9" r="2.15"/><circle cx="839.3" cy="313.6" r="2.15"/><circle cx="840.1" cy="323.1" r="2.15"/><circle cx="834.2" cy="326.9" r="2.15"/><circle cx="837.5" cy="330.0" r="2.15"/><circle cx="832.4" cy="333.3" r="2.15"/><circle cx="842.7" cy="334.6" r="2.15"/><circle cx="837.0" cy="337.1" r="2.15"/><circle cx="833.0" cy="338.4" r="2.15"/><circle cx="842.7" cy="339.7" r="2.15"/><circle cx="837.5" cy="342.2" r="2.15"/><circle cx="837.8" cy="349.1" r="2.15"/></g>
<g fill="#141414"><circle cx="871.2" cy="320.0" r="2.15"/><circle cx="868.2" cy="323.1" r="2.15"/><circle cx="859.8" cy="324.9" r="2.15"/><circle cx="865.6" cy="326.4" r="2.15"/><circle cx="871.2" cy="324.9" r="2.15"/><circle cx="863.1" cy="329.5" r="2.15"/><circle cx="869.5" cy="330.0" r="2.15"/><circle cx="860.5" cy="333.3" r="2.15"/><circle cx="865.6" cy="335.8" r="2.15"/><circle cx="871.2" cy="337.1" r="2.15"/><circle cx="861.8" cy="338.4" r="2.15"/><circle cx="868.2" cy="341.0" r="2.15"/><circle cx="865.7" cy="345.0" r="2.15"/><circle cx="865.7" cy="363.8" r="2.15"/></g>
<path d="M779.20,281.00 L779.99,282.91 L782.05,283.07 L780.48,284.42 L780.96,286.43 L779.20,285.35 L777.44,286.43 L777.92,284.42 L776.35,283.07 L778.41,282.91ZM785.20,281.00 L785.99,282.91 L788.05,283.07 L786.48,284.42 L786.96,286.43 L785.20,285.35 L783.44,286.43 L783.92,284.42 L782.35,283.07 L784.41,282.91Z" fill="#424242"/>
<path d="M833.90,281.00 L834.69,282.91 L836.75,283.07 L835.18,284.42 L835.66,286.43 L833.90,285.35 L832.14,286.43 L832.62,284.42 L831.05,283.07 L833.11,282.91ZM839.90,281.00 L840.69,282.91 L842.75,283.07 L841.18,284.42 L841.66,286.43 L839.90,285.35 L838.14,286.43 L838.62,284.42 L837.05,283.07 L839.11,282.91Z" fill="#424242"/>
<path d="M861.90,281.00 L862.69,282.91 L864.75,283.07 L863.18,284.42 L863.66,286.43 L861.90,285.35 L860.14,286.43 L860.62,284.42 L859.05,283.07 L861.11,282.91ZM867.90,281.00 L868.69,282.91 L870.75,283.07 L869.18,284.42 L869.66,286.43 L867.90,285.35 L866.14,286.43 L866.62,284.42 L865.05,283.07 L867.11,282.91Z" fill="#424242"/>
<text x="774.3000000000001" y="412.5" font-size="9.5" textLength="15.6" lengthAdjust="spacingAndGlyphs" style="fill:#3e3e3e" >Ctrl</text>
<text x="796.5" y="412.5" font-size="9.5" textLength="26.3" lengthAdjust="spacingAndGlyphs" style="fill:#3e3e3e" >Ftl1OE</text>
<text x="829.2" y="412.5" font-size="9.5" textLength="15.5" lengthAdjust="spacingAndGlyphs" style="fill:#3e3e3e" >Ctrl</text>
<text x="851.6" y="412.5" font-size="9.5" textLength="26.6" lengthAdjust="spacingAndGlyphs" style="fill:#3e3e3e" >Ftl1OE</text>
<line x1="774.7" y1="415.5" x2="814.1" y2="415.5" stroke="#555" stroke-width="1.05" />
<line x1="829.6" y1="415.5" x2="870.8" y2="415.5" stroke="#555" stroke-width="1.05" />
<text x="794.3" y="426.9" font-size="9.3" text-anchor="middle" textLength="17.8" lengthAdjust="spacingAndGlyphs" style="fill:#3e3e3e" >+Sal</text>
<text x="850.7" y="426.9" font-size="9.3" text-anchor="middle" textLength="29" lengthAdjust="spacingAndGlyphs" style="fill:#3e3e3e" >+NADH</text>
<text x="993.4" y="256.8" font-size="11" textLength="37.2" lengthAdjust="spacingAndGlyphs" >Y maze</text>
<text transform="translate(919.8,344.6) rotate(-90)" font-size="9.9" text-anchor="middle" textLength="103" lengthAdjust="spacingAndGlyphs" style="fill:#3e3e3e" >Discrimination index</text>
<line x1="955.2" y1="292.4" x2="955.2" y2="397.8" stroke="#5c5c5c" stroke-width="1" />
<line x1="950.9000000000001" y1="292.9" x2="955.2" y2="292.9" stroke="#5c5c5c" stroke-width="1" />
<text x="947.5" y="296.2" font-size="9.5" text-anchor="end" textLength="11.5" lengthAdjust="spacingAndGlyphs" style="fill:#3e3e3e" >1.0</text>
<line x1="950.9000000000001" y1="319" x2="955.2" y2="319" stroke="#5c5c5c" stroke-width="1" />
<text x="947.5" y="322.3" font-size="9.5" text-anchor="end" textLength="12" lengthAdjust="spacingAndGlyphs" style="fill:#3e3e3e" >0.5</text>
<line x1="950.9000000000001" y1="345" x2="955.2" y2="345" stroke="#5c5c5c" stroke-width="1" />
<text x="947.5" y="348.3" font-size="9.5" text-anchor="end" textLength="5.2" lengthAdjust="spacingAndGlyphs" style="fill:#3e3e3e" >0</text>
<line x1="950.9000000000001" y1="371.1" x2="955.2" y2="371.1" stroke="#5c5c5c" stroke-width="1" />
<text x="947.5" y="374.40000000000003" font-size="9.5" text-anchor="end" textLength="17" lengthAdjust="spacingAndGlyphs" style="fill:#3e3e3e" >−0.5</text>
<line x1="950.9000000000001" y1="397.3" x2="955.2" y2="397.3" stroke="#5c5c5c" stroke-width="1" />
<text x="947.5" y="400.6" font-size="9.5" text-anchor="end" textLength="16.5" lengthAdjust="spacingAndGlyphs" style="fill:#3e3e3e" >−1.0</text>
<line x1="954.7" y1="397.3" x2="1068.8" y2="397.3" stroke="#5c5c5c" stroke-width="1" />
<rect x="963.90" y="337.60" width="15.20" height="7.40" fill="#939598" stroke="#3a3a3a" stroke-width="0.75" />
<rect x="991.90" y="342.80" width="14.90" height="2.20" fill="#f7941d" stroke="#3a3a3a" stroke-width="0.75" />
<rect x="1017.80" y="337.90" width="15.20" height="7.10" fill="url(#dash)" stroke="#3a3a3a" stroke-width="0.75" />
<rect x="1045.30" y="337.10" width="15.10" height="7.90" fill="url(#hatch)" stroke="#3a3a3a" stroke-width="0.75" />
<line x1="955.2" y1="345" x2="1068.8" y2="345" stroke="#2c2c2c" stroke-width="1.2" />
<path d="M971.5,334.2V341M967.7,334.2H975.3M967.7,341H975.3" fill="none" stroke="#222" stroke-width="0.8" />
<path d="M999.3,341.2V344.4M995.5,341.2H1003.0999999999999M995.5,344.4H1003.0999999999999" fill="none" stroke="#222" stroke-width="0.8" />
<path d="M1025.4,334.3V341.5M1021.6000000000001,334.3H1029.2M1021.6000000000001,341.5H1029.2" fill="none" stroke="#222" stroke-width="0.8" />
<path d="M1052.8,335V339.2M1049.0,335H1056.6M1049.0,339.2H1056.6" fill="none" stroke="#222" stroke-width="0.8" />
<g fill="#141414"><circle cx="968.9" cy="312.9" r="2.15"/><circle cx="973.5" cy="313.6" r="2.15"/><circle cx="971.2" cy="320.2" r="2.15"/><circle cx="976.7" cy="327.6" r="2.15"/><circle cx="968.6" cy="329.4" r="2.15"/><circle cx="965.0" cy="331.8" r="2.15"/><circle cx="972.6" cy="333.8" r="2.15"/><circle cx="970.8" cy="338.0" r="2.15"/><circle cx="967.0" cy="341.5" r="2.15"/><circle cx="975.3" cy="337.5" r="2.15"/><circle cx="965.7" cy="347.0" r="2.15"/><circle cx="969.5" cy="349.6" r="2.15"/><circle cx="973.4" cy="350.9" r="2.15"/><circle cx="977.3" cy="351.4" r="2.15"/><circle cx="971.3" cy="362.5" r="2.15"/></g>
<g fill="#141414"><circle cx="993.0" cy="334.2" r="2.15"/><circle cx="998.3" cy="335.8" r="2.15"/><circle cx="1002.4" cy="334.2" r="2.15"/><circle cx="1005.4" cy="335.6" r="2.15"/><circle cx="996.2" cy="338.6" r="2.15"/><circle cx="1000.9" cy="339.3" r="2.15"/><circle cx="993.2" cy="343.7" r="2.15"/><circle cx="999.1" cy="345.8" r="2.15"/><circle cx="1004.3" cy="344.5" r="2.15"/><circle cx="999.1" cy="353.5" r="2.15"/></g>
<g fill="#141414"><circle cx="1027.0" cy="320.6" r="2.15"/><circle cx="1022.0" cy="322.9" r="2.15"/><circle cx="1019.1" cy="328.0" r="2.15"/><circle cx="1025.6" cy="329.4" r="2.15"/><circle cx="1027.7" cy="331.5" r="2.15"/><circle cx="1024.0" cy="335.3" r="2.15"/><circle cx="1028.8" cy="337.8" r="2.15"/><circle cx="1020.5" cy="339.5" r="2.15"/><circle cx="1019.8" cy="345.8" r="2.15"/><circle cx="1026.2" cy="345.8" r="2.15"/><circle cx="1031.3" cy="345.8" r="2.15"/><circle cx="1022.3" cy="348.3" r="2.15"/><circle cx="1027.5" cy="350.9" r="2.15"/><circle cx="1024.9" cy="356.1" r="2.15"/></g>
<g fill="#141414"><circle cx="1050.6" cy="328.3" r="2.15"/><circle cx="1054.2" cy="328.0" r="2.15"/><circle cx="1047.0" cy="335.3" r="2.15"/><circle cx="1051.5" cy="335.3" r="2.15"/><circle cx="1055.7" cy="337.0" r="2.15"/><circle cx="1058.8" cy="336.9" r="2.15"/><circle cx="1049.1" cy="339.3" r="2.15"/><circle cx="1053.8" cy="340.2" r="2.15"/><circle cx="1046.8" cy="343.2" r="2.15"/><circle cx="1051.9" cy="344.5" r="2.15"/><circle cx="1057.1" cy="342.7" r="2.15"/><circle cx="1049.4" cy="348.3" r="2.15"/></g>
<path d="M971.50,281.00 L972.29,282.91 L974.35,283.07 L972.78,284.42 L973.26,286.43 L971.50,285.35 L969.74,286.43 L970.22,284.42 L968.65,283.07 L970.71,282.91Z" fill="#424242"/>
<path d="M1025.60,281.00 L1026.39,282.91 L1028.45,283.07 L1026.88,284.42 L1027.36,286.43 L1025.60,285.35 L1023.84,286.43 L1024.32,284.42 L1022.75,283.07 L1024.81,282.91Z" fill="#424242"/>
<path d="M1050.20,281.00 L1050.99,282.91 L1053.05,283.07 L1051.48,284.42 L1051.96,286.43 L1050.20,285.35 L1048.44,286.43 L1048.92,284.42 L1047.35,283.07 L1049.41,282.91ZM1056.20,281.00 L1056.99,282.91 L1059.05,283.07 L1057.48,284.42 L1057.96,286.43 L1056.20,285.35 L1054.44,286.43 L1054.92,284.42 L1053.35,283.07 L1055.41,282.91Z" fill="#424242"/>
<text x="963.5" y="412.5" font-size="9.5" textLength="15.2" lengthAdjust="spacingAndGlyphs" style="fill:#3e3e3e" >Ctrl</text>
<text x="985.4" y="412.5" font-size="9.5" textLength="26.8" lengthAdjust="spacingAndGlyphs" style="fill:#3e3e3e" >Ftl1OE</text>
<text x="1017.3000000000001" y="412.5" font-size="9.5" textLength="15.5" lengthAdjust="spacingAndGlyphs" style="fill:#3e3e3e" >Ctrl</text>
<text x="1039.3999999999999" y="412.5" font-size="9.5" textLength="26.4" lengthAdjust="spacingAndGlyphs" style="fill:#3e3e3e" >Ftl1OE</text>
<line x1="947.1" y1="415.5" x2="1003" y2="415.5" stroke="#555" stroke-width="1.05" />
<line x1="1019" y1="415.5" x2="1059.2" y2="415.5" stroke="#555" stroke-width="1.05" />
<text x="975.5" y="426.9" font-size="9.3" text-anchor="middle" textLength="17.8" lengthAdjust="spacingAndGlyphs" style="fill:#3e3e3e" >+Sal</text>
<text x="1039.1" y="426.9" font-size="9.3" text-anchor="middle" textLength="29" lengthAdjust="spacingAndGlyphs" style="fill:#3e3e3e" >+NADH</text>
</g>
</svg>
</body></html>
